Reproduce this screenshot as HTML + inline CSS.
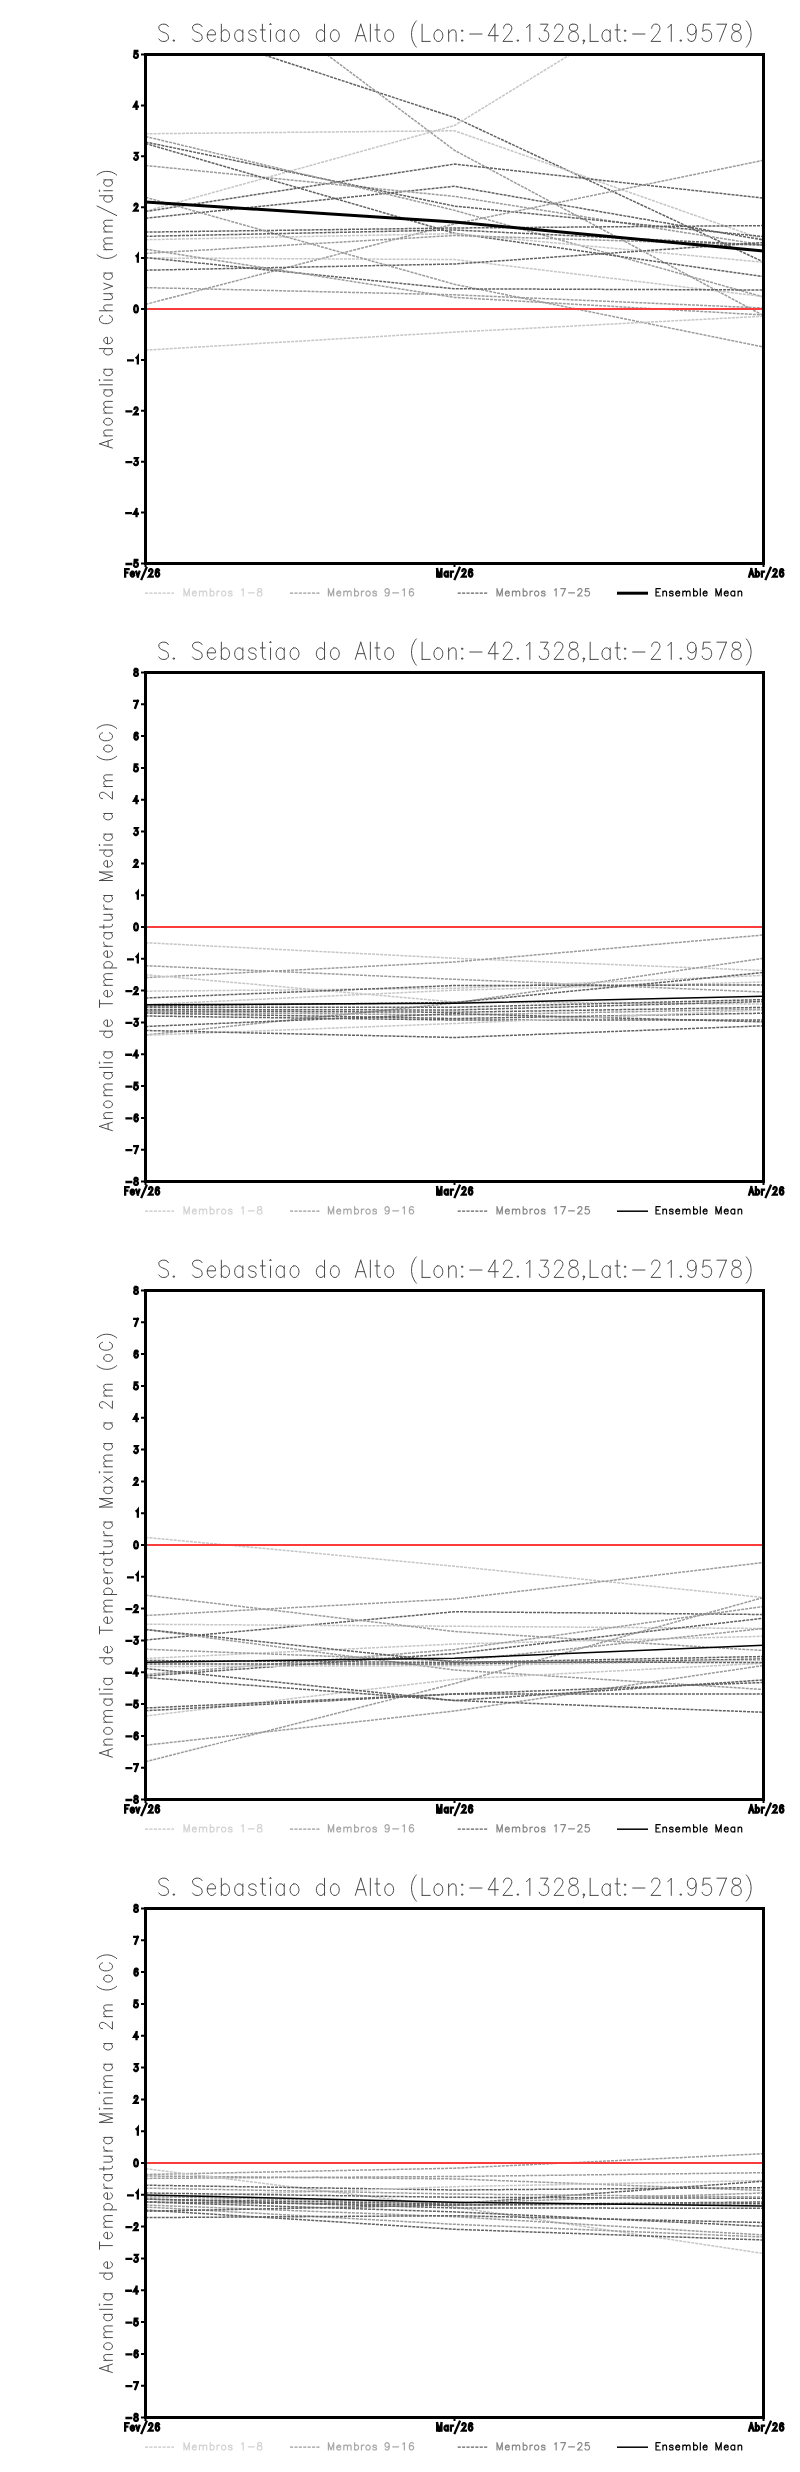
<!DOCTYPE html><html><head><meta charset="utf-8"><style>html,body{margin:0;padding:0;background:#fff}svg{display:block}</style></head><body><svg width="800" height="2472" viewBox="0 0 800 2472">
<rect width="800" height="2472" fill="#fff"/>
<clipPath id="c0"><rect x="145.5" y="54.5" width="618.0" height="509.0"/></clipPath>
<g fill="none" stroke-linecap="butt" clip-path="url(#c0)"><path d="M145.5 16L454.5 117.5L763.5 262" stroke="#626262" stroke-width="1.5" stroke-dasharray="3 1.05"/><path d="M145.5 211.25L454.5 125.5L763.5 -64" stroke="#c6c6c6" stroke-width="1.5" stroke-dasharray="3 1.05"/><path d="M145.5 133.75L454.5 130.75L763.5 239.5" stroke="#c6c6c6" stroke-width="1.5" stroke-dasharray="3 1.05"/><path d="M145.5 -81.5L454.5 150.3L763.5 315.6" stroke="#9c9c9c" stroke-width="1.5" stroke-dasharray="3 1.05"/><path d="M145.5 211.5L454.5 164.1L763.5 198.1" stroke="#626262" stroke-width="1.5" stroke-dasharray="3 1.05"/><path d="M145.5 218.25L454.5 186.3L763.5 240" stroke="#626262" stroke-width="1.5" stroke-dasharray="3 1.05"/><path d="M145.5 165.5L454.5 196.4L763.5 245" stroke="#9c9c9c" stroke-width="1.5" stroke-dasharray="3 1.05"/><path d="M145.5 142L454.5 206.1L763.5 236.6" stroke="#626262" stroke-width="1.5" stroke-dasharray="3 1.05"/><path d="M145.5 136.5L454.5 210.3L763.5 297" stroke="#9c9c9c" stroke-width="1.5" stroke-dasharray="3 1.05"/><path d="M145.5 304.4L454.5 223.9L763.5 160.25" stroke="#9c9c9c" stroke-width="1.5" stroke-dasharray="3 1.05"/><path d="M145.5 232.1L454.5 228L763.5 225.6" stroke="#626262" stroke-width="1.5" stroke-dasharray="3 1.05"/><path d="M145.5 143.5L454.5 233.25L763.5 276.6" stroke="#626262" stroke-width="1.5" stroke-dasharray="3 1.05"/><path d="M145.5 239.7L454.5 233.6L763.5 262.3" stroke="#c6c6c6" stroke-width="1.5" stroke-dasharray="3 1.05"/><path d="M145.5 253.4L454.5 235.5L763.5 245.3" stroke="#9c9c9c" stroke-width="1.5" stroke-dasharray="3 1.05"/><path d="M145.5 258L454.5 259.5L763.5 296.5" stroke="#c6c6c6" stroke-width="1.5" stroke-dasharray="3 1.05"/><path d="M145.5 270.2L454.5 264L763.5 242.5" stroke="#626262" stroke-width="1.5" stroke-dasharray="3 1.05"/><path d="M145.5 197.25L454.5 284.3L763.5 347" stroke="#9c9c9c" stroke-width="1.5" stroke-dasharray="3 1.05"/><path d="M145.5 257.6L454.5 288.8L763.5 290" stroke="#626262" stroke-width="1.5" stroke-dasharray="3 1.05"/><path d="M145.5 287.6L454.5 294.8L763.5 308" stroke="#9c9c9c" stroke-width="1.5" stroke-dasharray="3 1.05"/><path d="M145.5 249.2L454.5 297.4L763.5 315" stroke="#9c9c9c" stroke-width="1.5" stroke-dasharray="3 1.05"/><path d="M145.5 350.1L454.5 332.1L763.5 316.25" stroke="#c6c6c6" stroke-width="1.5" stroke-dasharray="3 1.05"/><path d="M145.5 236.3L454.5 230L763.5 245" stroke="#626262" stroke-width="1.5" stroke-dasharray="3 1.05"/><path d="M145.5 202L454.5 222L763.5 251" stroke="#000" stroke-width="3"/></g>
<path d="M146 309H763" stroke="rgb(250,60,60)" stroke-width="2" fill="none"/>
<rect x="145.5" y="54.5" width="618.0" height="509.0" fill="none" stroke="#000" stroke-width="3"/>
<path d="M141 563.5H145M141 512.6H145M141 461.7H145M141 410.8H145M141 359.9H145M141 309H145M141 258.1H145M141 207.2H145M141 156.3H145M141 105.4H145M141 54.5H145M145.5 563.5V567M454.5 563.5V567M763.5 563.5V567" stroke="#000" stroke-width="2" fill="none"/>
<path d="M126.56 563.98L131.24 563.98M137.33 560.02L134.73 560.02L134.47 562.99L134.73 562.66L135.51 562.33L136.29 562.33L137.07 562.66L137.59 563.32L137.85 564.31L137.85 564.97L137.59 565.96L137.07 566.62L136.29 566.95L135.51 566.95L134.73 566.62L134.47 566.29L134.21 565.63M126.3 513.08L130.98 513.08M136.55 509.12L133.95 513.74L137.85 513.74M136.55 509.12L136.55 516.05M126.56 462.18L131.24 462.18M134.73 458.22L137.59 458.22L136.03 460.86L136.81 460.86L137.33 461.19L137.59 461.52L137.85 462.51L137.85 463.17L137.59 464.16L137.07 464.82L136.29 465.15L135.51 465.15L134.73 464.82L134.47 464.49L134.21 463.83M126.56 411.28L131.24 411.28M134.47 408.97L134.47 408.64L134.73 407.98L134.99 407.65L135.51 407.32L136.55 407.32L137.07 407.65L137.33 407.98L137.59 408.64L137.59 409.3L137.33 409.96L136.81 410.95L134.21 414.25L137.85 414.25M128.12 360.38L132.8 360.38M136.55 357.74L137.07 357.41L137.85 356.42L137.85 363.35M135.77 305.52L134.99 305.85L134.47 306.84L134.21 308.49L134.21 309.48L134.47 311.13L134.99 312.12L135.77 312.45L136.29 312.45L137.07 312.12L137.59 311.13L137.85 309.48L137.85 308.49L137.59 306.84L137.07 305.85L136.29 305.52L135.77 305.52M136.55 255.94L137.07 255.61L137.85 254.62L137.85 261.55M134.47 205.37L134.47 205.04L134.73 204.38L134.99 204.05L135.51 203.72L136.55 203.72L137.07 204.05L137.33 204.38L137.59 205.04L137.59 205.7L137.33 206.36L136.81 207.35L134.21 210.65L137.85 210.65M134.73 152.82L137.59 152.82L136.03 155.46L136.81 155.46L137.33 155.79L137.59 156.12L137.85 157.11L137.85 157.77L137.59 158.76L137.07 159.42L136.29 159.75L135.51 159.75L134.73 159.42L134.47 159.09L134.21 158.43M136.55 101.92L133.95 106.54L137.85 106.54M136.55 101.92L136.55 108.85M137.33 51.02L134.73 51.02L134.47 53.99L134.73 53.66L135.51 53.33L136.29 53.33L137.07 53.66L137.59 54.32L137.85 55.31L137.85 55.97L137.59 56.96L137.07 57.62L136.29 57.95L135.51 57.95L134.73 57.62L134.47 57.29L134.21 56.63M125.15 569.14L125.15 576.6M125.15 569.14L128.66 569.14M125.15 572.7L127.31 572.7M130.68 573.76L133.92 573.76L133.92 573.05L133.65 572.34L133.38 571.99L132.84 571.63L132.03 571.63L131.49 571.99L130.95 572.7L130.68 573.76L130.68 574.47L130.95 575.53L131.49 576.25L132.03 576.6L132.84 576.6L133.38 576.25L133.92 575.53M136.2 571.63L137.82 576.6M139.44 571.63L137.82 576.6M146.43 567.73L141.56 579.09M149.2 570.92L149.2 570.57L149.47 569.86L149.74 569.5L150.28 569.14L151.36 569.14L151.9 569.5L152.17 569.86L152.44 570.57L152.44 571.27L152.17 571.99L151.63 573.05L148.93 576.6L152.71 576.6M158.94 570.21L158.67 569.5L157.86 569.14L157.32 569.14L156.51 569.5L155.97 570.57L155.7 572.34L155.7 574.12L155.97 575.53L156.51 576.25L157.32 576.6L157.59 576.6L158.4 576.25L158.94 575.53L159.21 574.47L159.21 574.12L158.94 573.05L158.4 572.34L157.59 571.99L157.32 571.99L156.51 572.34L155.97 573.05L155.7 574.12M437.15 569.14L437.15 576.6M437.15 569.14L439.31 576.6M441.47 569.14L439.31 576.6M441.47 569.14L441.47 576.6M447.75 571.63L447.75 576.6M447.75 572.7L447.21 571.99L446.67 571.63L445.86 571.63L445.32 571.99L444.78 572.7L444.51 573.76L444.51 574.47L444.78 575.53L445.32 576.25L445.86 576.6L446.67 576.6L447.21 576.25L447.75 575.53M450.85 571.63L450.85 576.6M450.85 573.76L451.12 572.7L451.66 571.99L452.2 571.63L453.01 571.63M459.61 567.73L454.75 579.09M462.39 570.92L462.39 570.57L462.66 569.86L462.93 569.5L463.47 569.14L464.55 569.14L465.09 569.5L465.36 569.86L465.63 570.57L465.63 571.27L465.36 571.99L464.82 573.05L462.12 576.6L465.9 576.6M472.13 570.21L471.86 569.5L471.05 569.14L470.51 569.14L469.7 569.5L469.16 570.57L468.89 572.34L468.89 574.12L469.16 575.53L469.7 576.25L470.51 576.6L470.78 576.6L471.59 576.25L472.13 575.53L472.4 574.47L472.4 574.12L472.13 573.05L471.59 572.34L470.78 571.99L470.51 571.99L469.7 572.34L469.16 573.05L468.89 574.12M751.31 569.14L749.15 576.6M751.31 569.14L753.47 576.6M749.96 574.12L752.66 574.12M755.87 569.14L755.87 576.6M755.87 572.7L756.4 571.99L756.94 571.63L757.75 571.63L758.29 571.99L758.84 572.7L759.11 573.76L759.11 574.47L758.84 575.53L758.29 576.25L757.75 576.6L756.94 576.6L756.4 576.25L755.87 575.53M761.88 571.63L761.88 576.6M761.88 573.76L762.14 572.7L762.68 571.99L763.23 571.63L764.03 571.63M770.64 567.73L765.78 579.09M773.41 570.92L773.41 570.57L773.68 569.86L773.96 569.5L774.5 569.14L775.58 569.14L776.12 569.5L776.38 569.86L776.65 570.57L776.65 571.27L776.38 571.99L775.85 573.05L773.14 576.6L776.92 576.6M783.15 570.21L782.88 569.5L782.08 569.14L781.53 569.14L780.73 569.5L780.18 570.57L779.91 572.34L779.91 574.12L780.18 575.53L780.73 576.25L781.53 576.6L781.8 576.6L782.62 576.25L783.15 575.53L783.42 574.47L783.42 574.12L783.15 573.05L782.62 572.34L781.8 571.99L781.53 571.99L780.73 572.34L780.18 573.05L779.91 574.12" stroke="#000" stroke-width="2.3" fill="none" stroke-linecap="square" stroke-linejoin="miter"/>
<path d="M168.4 26.64L167.04 25L165 24.18L162.28 24.18L160.24 25L158.88 26.64L158.88 28.28L159.56 29.92L160.24 30.74L161.6 31.56L165.68 33.2L167.04 34.02L167.72 34.84L168.4 36.48L168.4 38.94L167.04 40.58L165 41.4L162.28 41.4L160.24 40.58L158.88 38.94M173.5 40.08h1v1h-1zM202.1 26.64L200.74 25L198.7 24.18L195.98 24.18L193.94 25L192.58 26.64L192.58 28.28L193.26 29.92L193.94 30.74L195.3 31.56L199.38 33.2L200.74 34.02L201.42 34.84L202.1 36.48L202.1 38.94L200.74 40.58L198.7 41.4L195.98 41.4L193.94 40.58L192.58 38.94M207.31 34.84L215.47 34.84L215.47 33.2L214.79 31.56L214.11 30.74L212.75 29.92L210.71 29.92L209.35 30.74L207.99 32.38L207.31 34.84L207.31 36.48L207.99 38.94L209.35 40.58L210.71 41.4L212.75 41.4L214.11 40.58L215.47 38.94M221.35 24.18L221.35 41.4M221.35 32.38L222.71 30.74L224.07 29.92L226.11 29.92L227.47 30.74L228.83 32.38L229.51 34.84L229.51 36.48L228.83 38.94L227.47 40.58L226.11 41.4L224.07 41.4L222.71 40.58L221.35 38.94M242.82 29.92L242.82 41.4M242.82 32.38L241.46 30.74L240.1 29.92L238.06 29.92L236.7 30.74L235.34 32.38L234.66 34.84L234.66 36.48L235.34 38.94L236.7 40.58L238.06 41.4L240.1 41.4L241.46 40.58L242.82 38.94M256.13 32.38L255.45 30.74L253.41 29.92L251.37 29.92L249.33 30.74L248.65 32.38L249.33 34.02L250.69 34.84L254.09 35.66L255.45 36.48L256.13 38.12L256.13 38.94L255.45 40.58L253.41 41.4L251.37 41.4L249.33 40.58L248.65 38.94M262.4 24.18L262.4 38.12L263.08 40.58L264.44 41.4L265.8 41.4M260.36 29.92L265.12 29.92M269.86 24.18L270.54 25L271.22 24.18L270.54 23.36L269.86 24.18M270.54 29.92L270.54 41.4M284.23 29.92L284.23 41.4M284.23 32.38L282.87 30.74L281.51 29.92L279.47 29.92L278.11 30.74L276.75 32.38L276.07 34.84L276.07 36.48L276.75 38.94L278.11 40.58L279.47 41.4L281.51 41.4L282.87 40.58L284.23 38.94M293.52 29.92L292.16 30.74L290.8 32.38L290.12 34.84L290.12 36.48L290.8 38.94L292.16 40.58L293.52 41.4L295.56 41.4L296.92 40.58L298.28 38.94L298.96 36.48L298.96 34.84L298.28 32.38L296.92 30.74L295.56 29.92L293.52 29.92M324.53 24.18L324.53 41.4M324.53 32.38L323.17 30.74L321.81 29.92L319.77 29.92L318.41 30.74L317.05 32.38L316.37 34.84L316.37 36.48L317.05 38.94L318.41 40.58L319.77 41.4L321.81 41.4L323.17 40.58L324.53 38.94M333.82 29.92L332.46 30.74L331.1 32.38L330.42 34.84L330.42 36.48L331.1 38.94L332.46 40.58L333.82 41.4L335.86 41.4L337.22 40.58L338.58 38.94L339.26 36.48L339.26 34.84L338.58 32.38L337.22 30.74L335.86 29.92L333.82 29.92M360.75 24.18L355.31 41.4M360.75 24.18L366.19 41.4M357.35 35.66L364.15 35.66M370.36 24.18L370.36 41.4M377.01 24.18L377.01 38.12L377.69 40.58L379.05 41.4L380.41 41.4M374.97 29.92L379.73 29.92M388.16 29.92L386.8 30.74L385.44 32.38L384.76 34.84L384.76 36.48L385.44 38.94L386.8 40.58L388.16 41.4L390.2 41.4L391.56 40.58L392.92 38.94L393.6 36.48L393.6 34.84L392.92 32.38L391.56 30.74L390.2 29.92L388.16 29.92M416.33 20.9L414.97 22.54L413.61 25L412.25 28.28L411.57 32.38L411.57 35.66L412.25 39.76L413.61 43.04L414.97 45.5L416.33 47.14M422.1 24.18L422.1 41.4M422.1 41.4L430.26 41.4M437.33 29.92L435.97 30.74L434.61 32.38L433.93 34.84L433.93 36.48L434.61 38.94L435.97 40.58L437.33 41.4L439.37 41.4L440.73 40.58L442.09 38.94L442.77 36.48L442.77 34.84L442.09 32.38L440.73 30.74L439.37 29.92L437.33 29.92M448.66 29.92L448.66 41.4M448.66 33.2L450.7 30.74L452.06 29.92L454.1 29.92L455.46 30.74L456.14 33.2L456.14 41.4M461.91 30.24h1v1h-1zM461.91 40.08h1v1h-1zM469.78 34.02L482.02 34.02M494.95 24.18L488.15 35.66L498.35 35.66M494.95 24.18L494.95 41.4M503.62 28.28L503.62 27.46L504.3 25.82L504.98 25L506.34 24.18L509.06 24.18L510.42 25L511.1 25.82L511.78 27.46L511.78 29.1L511.1 30.74L509.74 33.2L502.94 41.4L512.46 41.4M517.55 40.08h1v1h-1zM526.47 27.46L527.83 26.64L529.87 24.18L529.87 41.4M540.58 24.18L548.06 24.18L543.98 30.74L546.02 30.74L547.38 31.56L548.06 32.38L548.74 34.84L548.74 36.48L548.06 38.94L546.7 40.58L544.66 41.4L542.62 41.4L540.58 40.58L539.9 39.76L539.22 38.12M554.69 28.28L554.69 27.46L555.37 25.82L556.05 25L557.41 24.18L560.13 24.18L561.49 25L562.17 25.82L562.85 27.46L562.85 29.1L562.17 30.74L560.81 33.2L554.01 41.4L563.53 41.4M572.19 24.18L570.15 25L569.47 26.64L569.47 28.28L570.15 29.92L571.51 30.74L574.23 31.56L576.27 32.38L577.63 34.02L578.31 35.66L578.31 38.12L577.63 39.76L576.95 40.58L574.91 41.4L572.19 41.4L570.15 40.58L569.47 39.76L568.79 38.12L568.79 35.66L569.47 34.02L570.83 32.38L572.87 31.56L575.59 30.74L576.95 29.92L577.63 28.28L577.63 26.64L576.95 25L574.91 24.18L572.19 24.18M583.41 40.08h1v1h-1zM584.59 40.58L583.23 43.86M590.18 24.18L590.18 41.4M590.18 41.4L598.34 41.4M610.17 29.92L610.17 41.4M610.17 32.38L608.81 30.74L607.45 29.92L605.41 29.92L604.05 30.74L602.69 32.38L602.01 34.84L602.01 36.48L602.69 38.94L604.05 40.58L605.41 41.4L607.45 41.4L608.81 40.58L610.17 38.94M617.18 24.18L617.18 38.12L617.86 40.58L619.22 41.4L620.58 41.4M615.14 29.92L619.9 29.92M624.81 30.24h1v1h-1zM624.81 40.08h1v1h-1zM632.68 34.02L644.92 34.02M651.73 28.28L651.73 27.46L652.41 25.82L653.09 25L654.45 24.18L657.17 24.18L658.53 25L659.21 25.82L659.89 27.46L659.89 29.1L659.21 30.74L657.85 33.2L651.05 41.4L660.57 41.4M667.88 27.46L669.24 26.64L671.28 24.18L671.28 41.4M680.45 40.08h1v1h-1zM696.17 29.92L695.49 32.38L694.13 34.02L692.09 34.84L691.41 34.84L689.37 34.02L688.01 32.38L687.33 29.92L687.33 29.1L688.01 26.64L689.37 25L691.41 24.18L692.09 24.18L694.13 25L695.49 26.64L696.17 29.92L696.17 34.02L695.49 38.12L694.13 40.58L692.09 41.4L690.73 41.4L688.69 40.58L688.01 38.94M710.28 24.18L703.48 24.18L702.8 31.56L703.48 30.74L705.52 29.92L707.56 29.92L709.6 30.74L710.96 32.38L711.64 34.84L711.64 36.48L710.96 38.94L709.6 40.58L707.56 41.4L705.52 41.4L703.48 40.58L702.8 39.76L702.12 38.12M726.43 24.18L719.63 41.4M716.91 24.18L726.43 24.18M735.09 24.18L733.05 25L732.37 26.64L732.37 28.28L733.05 29.92L734.41 30.74L737.13 31.56L739.17 32.38L740.53 34.02L741.21 35.66L741.21 38.12L740.53 39.76L739.85 40.58L737.81 41.4L735.09 41.4L733.05 40.58L732.37 39.76L731.69 38.12L731.69 35.66L732.37 34.02L733.73 32.38L735.77 31.56L738.49 30.74L739.85 29.92L740.53 28.28L740.53 26.64L739.85 25L737.81 24.18L735.09 24.18M746.3 20.9L747.66 22.54L749.02 25L750.38 28.28L751.06 32.38L751.06 35.66L750.38 39.76L749.02 43.04L747.66 45.5L746.3 47.14" stroke="#404040" stroke-width="0.95" fill="none" stroke-linecap="round" stroke-linejoin="round"/>
<path d="M99.49 443.81L112.4 448.06M99.49 443.81L112.4 439.57M108.09 446.46L108.09 441.17M103.79 435.85L112.4 435.85M106.25 435.85L104.41 434.25L103.79 433.19L103.79 431.61L104.41 430.55L106.25 430.01L112.4 430.01M103.79 422.51L104.41 423.57L105.64 424.63L107.48 425.17L108.71 425.17L110.56 424.63L111.79 423.57L112.4 422.51L112.4 420.93L111.79 419.87L110.56 418.81L108.71 418.27L107.48 418.27L105.64 418.81L104.41 419.87L103.79 420.93L103.79 422.51M103.79 413.06L112.4 413.06M106.25 413.06L104.41 411.48L103.79 410.42L103.79 408.82L104.41 407.76L106.25 407.24L112.4 407.24M106.25 407.24L104.41 405.64L103.79 404.58L103.79 403L104.41 401.94L106.25 401.4L112.4 401.4M103.79 389.89L112.4 389.89M105.64 389.89L104.41 390.95L103.79 392.01L103.79 393.61L104.41 394.67L105.64 395.73L107.48 396.25L108.71 396.25L110.56 395.73L111.79 394.67L112.4 393.61L112.4 392.01L111.79 390.95L110.56 389.89M99.49 384.81L112.4 384.81M99.49 380.62L100.1 380.1L99.49 379.56L98.87 380.1L99.49 380.62M103.79 380.1L112.4 380.1M103.79 369.25L112.4 369.25M105.64 369.25L104.41 370.31L103.79 371.37L103.79 372.95L104.41 374.01L105.64 375.07L107.48 375.61L108.71 375.61L110.56 375.07L111.79 374.01L112.4 372.95L112.4 371.37L111.79 370.31L110.56 369.25M99.49 348.6L112.4 348.6M105.64 348.6L104.41 349.65L103.79 350.72L103.79 352.31L104.41 353.37L105.64 354.43L107.48 354.96L108.71 354.96L110.56 354.43L111.79 353.37L112.4 352.31L112.4 350.72L111.79 349.65L110.56 348.6M107.48 343.75L107.48 337.38L106.25 337.38L105.02 337.92L104.41 338.44L103.79 339.5L103.79 341.1L104.41 342.16L105.64 343.22L107.48 343.75L108.71 343.75L110.56 343.22L111.79 342.16L112.4 341.1L112.4 339.5L111.79 338.44L110.56 337.38M102.56 315.68L101.33 316.21L100.1 317.26L99.49 318.33L99.49 320.45L100.1 321.5L101.33 322.57L102.56 323.1L104.41 323.62L107.48 323.62L109.33 323.1L110.56 322.57L111.79 321.5L112.4 320.45L112.4 318.33L111.79 317.26L110.56 316.21L109.33 315.68M99.49 310.76L112.4 310.76M106.25 310.76L104.41 309.18L103.79 308.12L103.79 306.52L104.41 305.47L106.25 304.94L112.4 304.94M103.79 299.56L109.94 299.56L111.79 299.02L112.4 297.97L112.4 296.38L111.79 295.31L109.94 293.73M103.79 293.73L112.4 293.73M103.79 289.47L112.4 286.28M103.79 283.11L112.4 286.28M103.79 273.07L112.4 273.07M105.64 273.07L104.41 274.13L103.79 275.19L103.79 276.78L104.41 277.85L105.64 278.9L107.48 279.44L108.71 279.44L110.56 278.9L111.79 277.85L112.4 276.78L112.4 275.19L111.79 274.13L110.56 273.07M97.03 254.66L98.26 255.72L100.1 256.78L102.56 257.85L105.64 258.38L108.09 258.38L111.17 257.85L113.63 256.78L115.48 255.72L116.71 254.66M103.79 249.64L112.4 249.64M106.25 249.64L104.41 248.05L103.79 246.99L103.79 245.4L104.41 244.34L106.25 243.81L112.4 243.81M106.25 243.81L104.41 242.22L103.79 241.16L103.79 239.56L104.41 238.5L106.25 237.97L112.4 237.97M103.79 231.94L112.4 231.94M106.25 231.94L104.41 230.35L103.79 229.29L103.79 227.7L104.41 226.64L106.25 226.11L112.4 226.11M106.25 226.11L104.41 224.52L103.79 223.46L103.79 221.87L104.41 220.81L106.25 220.28L112.4 220.28M97.03 206L116.71 215.54M99.49 195.79L112.4 195.79M105.64 195.79L104.41 196.85L103.79 197.91L103.79 199.5L104.41 200.56L105.64 201.62L107.48 202.15L108.71 202.15L110.56 201.62L111.79 200.56L112.4 199.5L112.4 197.91L111.79 196.85L110.56 195.79M99.49 191.24L100.1 190.71L99.49 190.18L98.87 190.71L99.49 191.24M103.79 190.71L112.4 190.71M103.79 179.86L112.4 179.86M105.64 179.86L104.41 180.92L103.79 181.98L103.79 183.56L104.41 184.62L105.64 185.69L107.48 186.22L108.71 186.22L110.56 185.69L111.79 184.62L112.4 183.56L112.4 181.98L111.79 180.92L110.56 179.86M97.03 175.13L98.26 174.07L100.1 173.01L102.56 171.95L105.64 171.42L108.09 171.42L111.17 171.95L113.63 173.01L115.48 174.07L116.71 175.13" stroke="#404040" stroke-width="0.95" fill="none" stroke-linecap="round" stroke-linejoin="round"/>
<path d="M145 593.2H174" stroke="#c6c6c6" stroke-width="1.2" stroke-dasharray="3.1 1.3" fill="none"/>
<path d="M184 588.65L184 596M184 588.65L186.64 596M189.28 588.65L186.64 596M189.28 588.65L189.28 596M192.32 593.2L196.28 593.2L196.28 592.5L195.95 591.8L195.62 591.45L194.97 591.1L193.97 591.1L193.31 591.45L192.66 592.15L192.32 593.2L192.32 593.9L192.66 594.95L193.31 595.65L193.97 596L194.97 596L195.62 595.65L196.28 594.95M199.44 591.1L199.44 596M199.44 592.5L200.42 591.45L201.08 591.1L202.07 591.1L202.73 591.45L203.06 592.5L203.06 596M203.06 592.5L204.05 591.45L204.71 591.1L205.7 591.1L206.36 591.45L206.69 592.5L206.69 596M210.21 588.65L210.21 596M210.21 592.15L210.87 591.45L211.53 591.1L212.52 591.1L213.18 591.45L213.84 592.15L214.17 593.2L214.17 593.9L213.84 594.95L213.18 595.65L212.52 596L211.53 596L210.87 595.65L210.21 594.95M217.04 591.1L217.04 596M217.04 593.2L217.37 592.15L218.03 591.45L218.69 591.1L219.68 591.1M223.18 591.1L222.51 591.45L221.85 592.15L221.53 593.2L221.53 593.9L221.85 594.95L222.51 595.65L223.18 596L224.16 596L224.82 595.65L225.48 594.95L225.81 593.9L225.81 593.2L225.48 592.15L224.82 591.45L224.16 591.1L223.18 591.1M232.06 592.15L231.72 591.45L230.73 591.1L229.75 591.1L228.75 591.45L228.43 592.15L228.75 592.85L229.41 593.2L231.06 593.55L231.72 593.9L232.06 594.6L232.06 594.95L231.72 595.65L230.73 596L229.75 596L228.75 595.65L228.43 594.95M241.53 590.05L242.19 589.7L243.18 588.65L243.18 596M248.27 592.85L254.21 592.85M258.98 588.65L257.99 589L257.66 589.7L257.66 590.4L257.99 591.1L258.65 591.45L259.97 591.8L260.96 592.15L261.62 592.85L261.95 593.55L261.95 594.6L261.62 595.3L261.29 595.65L260.3 596L258.98 596L257.99 595.65L257.66 595.3L257.33 594.6L257.33 593.55L257.66 592.85L258.32 592.15L259.31 591.8L260.63 591.45L261.29 591.1L261.62 590.4L261.62 589.7L261.29 589L260.3 588.65L258.98 588.65" stroke="#d2d2d2" stroke-width="1.2" fill="none" stroke-linecap="round" stroke-linejoin="round"/>
<path d="M290 593.2H320" stroke="#9c9c9c" stroke-width="1.2" stroke-dasharray="3.1 1.3" fill="none"/>
<path d="M328.4 588.65L328.4 596M328.4 588.65L331.04 596M333.68 588.65L331.04 596M333.68 588.65L333.68 596M336.72 593.2L340.68 593.2L340.68 592.5L340.35 591.8L340.02 591.45L339.36 591.1L338.37 591.1L337.71 591.45L337.05 592.15L336.72 593.2L336.72 593.9L337.05 594.95L337.71 595.65L338.37 596L339.36 596L340.02 595.65L340.68 594.95M343.83 591.1L343.83 596M343.83 592.5L344.82 591.45L345.48 591.1L346.47 591.1L347.13 591.45L347.46 592.5L347.46 596M347.46 592.5L348.45 591.45L349.11 591.1L350.1 591.1L350.76 591.45L351.09 592.5L351.09 596M354.61 588.65L354.61 596M354.61 592.15L355.27 591.45L355.93 591.1L356.92 591.1L357.58 591.45L358.24 592.15L358.57 593.2L358.57 593.9L358.24 594.95L357.58 595.65L356.92 596L355.93 596L355.27 595.65L354.61 594.95M361.44 591.1L361.44 596M361.44 593.2L361.77 592.15L362.43 591.45L363.09 591.1L364.08 591.1M367.57 591.1L366.91 591.45L366.25 592.15L365.92 593.2L365.92 593.9L366.25 594.95L366.91 595.65L367.57 596L368.56 596L369.22 595.65L369.88 594.95L370.21 593.9L370.21 593.2L369.88 592.15L369.22 591.45L368.56 591.1L367.57 591.1M376.45 592.15L376.12 591.45L375.13 591.1L374.14 591.1L373.15 591.45L372.82 592.15L373.15 592.85L373.81 593.2L375.46 593.55L376.12 593.9L376.45 594.6L376.45 594.95L376.12 595.65L375.13 596L374.14 596L373.15 595.65L372.82 594.95M389.23 591.1L388.9 592.15L388.24 592.85L387.25 593.2L386.92 593.2L385.93 592.85L385.27 592.15L384.94 591.1L384.94 590.75L385.27 589.7L385.93 589L386.92 588.65L387.25 588.65L388.24 589L388.9 589.7L389.23 591.1L389.23 592.85L388.9 594.6L388.24 595.65L387.25 596L386.59 596L385.6 595.65L385.27 594.95M392.67 592.85L398.61 592.85M402.72 590.05L403.38 589.7L404.37 588.65L404.37 596M413.32 589.7L412.99 589L412 588.65L411.34 588.65L410.35 589L409.69 590.05L409.36 591.8L409.36 593.55L409.69 594.95L410.35 595.65L411.34 596L411.67 596L412.66 595.65L413.32 594.95L413.65 593.9L413.65 593.55L413.32 592.5L412.66 591.8L411.67 591.45L411.34 591.45L410.35 591.8L409.69 592.5L409.36 593.55" stroke="#a8a8a8" stroke-width="1.2" fill="none" stroke-linecap="round" stroke-linejoin="round"/>
<path d="M457.7 593.2H487.4" stroke="#626262" stroke-width="1.2" stroke-dasharray="3.1 1.3" fill="none"/>
<path d="M497 588.65L497 596M497 588.65L499.64 596M502.28 588.65L499.64 596M502.28 588.65L502.28 596M505.32 593.2L509.28 593.2L509.28 592.5L508.95 591.8L508.62 591.45L507.96 591.1L506.97 591.1L506.31 591.45L505.65 592.15L505.32 593.2L505.32 593.9L505.65 594.95L506.31 595.65L506.97 596L507.96 596L508.62 595.65L509.28 594.95M512.43 591.1L512.43 596M512.43 592.5L513.42 591.45L514.09 591.1L515.08 591.1L515.74 591.45L516.06 592.5L516.06 596M516.06 592.5L517.05 591.45L517.72 591.1L518.71 591.1L519.37 591.45L519.69 592.5L519.69 596M523.21 588.65L523.21 596M523.21 592.15L523.87 591.45L524.53 591.1L525.52 591.1L526.18 591.45L526.84 592.15L527.17 593.2L527.17 593.9L526.84 594.95L526.18 595.65L525.52 596L524.53 596L523.87 595.65L523.21 594.95M530.04 591.1L530.04 596M530.04 593.2L530.37 592.15L531.03 591.45L531.69 591.1L532.68 591.1M536.17 591.1L535.51 591.45L534.86 592.15L534.52 593.2L534.52 593.9L534.86 594.95L535.51 595.65L536.17 596L537.16 596L537.83 595.65L538.49 594.95L538.82 593.9L538.82 593.2L538.49 592.15L537.83 591.45L537.16 591.1L536.17 591.1M545.05 592.15L544.73 591.45L543.74 591.1L542.75 591.1L541.75 591.45L541.42 592.15L541.75 592.85L542.41 593.2L544.07 593.55L544.73 593.9L545.05 594.6L545.05 594.95L544.73 595.65L543.74 596L542.75 596L541.75 595.65L541.42 594.95M554.53 590.05L555.19 589.7L556.18 588.65L556.18 596M565.46 588.65L562.16 596M560.84 588.65L565.46 588.65M568.58 592.85L574.51 592.85M577.96 590.4L577.96 590.05L578.29 589.35L578.62 589L579.28 588.65L580.6 588.65L581.26 589L581.59 589.35L581.92 590.05L581.92 590.75L581.59 591.45L580.93 592.5L577.63 596L582.25 596M588.89 588.65L585.59 588.65L585.26 591.8L585.59 591.45L586.58 591.1L587.57 591.1L588.56 591.45L589.22 592.15L589.55 593.2L589.55 593.9L589.22 594.95L588.56 595.65L587.57 596L586.58 596L585.59 595.65L585.26 595.3L584.93 594.6" stroke="#888888" stroke-width="1.2" fill="none" stroke-linecap="round" stroke-linejoin="round"/>
<path d="M617 593.2H648" stroke="#000" stroke-width="3" fill="none"/>
<path d="M656 588.65L656 596M656 588.65L660.29 588.65M656 592.15L658.64 592.15M656 596L660.29 596M662.9 591.1L662.9 596M662.9 592.5L663.89 591.45L664.55 591.1L665.54 591.1L666.2 591.45L666.53 592.5L666.53 596M673.1 592.15L672.77 591.45L671.78 591.1L670.79 591.1L669.8 591.45L669.47 592.15L669.8 592.85L670.46 593.2L672.11 593.55L672.77 593.9L673.1 594.6L673.1 594.95L672.77 595.65L671.78 596L670.79 596L669.8 595.65L669.47 594.95M675.71 593.2L679.67 593.2L679.67 592.5L679.34 591.8L679.01 591.45L678.35 591.1L677.36 591.1L676.7 591.45L676.04 592.15L675.71 593.2L675.71 593.9L676.04 594.95L676.7 595.65L677.36 596L678.35 596L679.01 595.65L679.67 594.95M682.82 591.1L682.82 596M682.82 592.5L683.81 591.45L684.47 591.1L685.46 591.1L686.12 591.45L686.45 592.5L686.45 596M686.45 592.5L687.44 591.45L688.1 591.1L689.09 591.1L689.75 591.45L690.08 592.5L690.08 596M693.6 588.65L693.6 596M693.6 592.15L694.25 591.45L694.92 591.1L695.91 591.1L696.57 591.45L697.23 592.15L697.56 593.2L697.56 593.9L697.23 594.95L696.57 595.65L695.91 596L694.92 596L694.25 595.65L693.6 594.95M700.32 588.65L700.32 596M703.09 593.2L707.05 593.2L707.05 592.5L706.72 591.8L706.38 591.45L705.73 591.1L704.74 591.1L704.08 591.45L703.42 592.15L703.09 593.2L703.09 593.9L703.42 594.95L704.08 595.65L704.74 596L705.73 596L706.38 595.65L707.05 594.95M715.93 588.65L715.93 596M715.93 588.65L718.57 596M721.21 588.65L718.57 596M721.21 588.65L721.21 596M724.25 593.2L728.22 593.2L728.22 592.5L727.88 591.8L727.56 591.45L726.89 591.1L725.91 591.1L725.25 591.45L724.59 592.15L724.25 593.2L724.25 593.9L724.59 594.95L725.25 595.65L725.91 596L726.89 596L727.56 595.65L728.22 594.95M734.79 591.1L734.79 596M734.79 592.15L734.12 591.45L733.47 591.1L732.48 591.1L731.82 591.45L731.15 592.15L730.83 593.2L730.83 593.9L731.15 594.95L731.82 595.65L732.48 596L733.47 596L734.12 595.65L734.79 594.95M738.09 591.1L738.09 596M738.09 592.5L739.08 591.45L739.74 591.1L740.73 591.1L741.39 591.45L741.72 592.5L741.72 596" stroke="#000" stroke-width="1.2" fill="none" stroke-linecap="round" stroke-linejoin="round"/>
<clipPath id="c1"><rect x="145.5" y="672.5" width="618.0" height="509.0"/></clipPath>
<g fill="none" stroke-linecap="butt" clip-path="url(#c1)"><path d="M145.5 942.75L454.5 958.25L763.5 970.5" stroke="#c6c6c6" stroke-width="1.5" stroke-dasharray="3 1.05"/><path d="M145.5 965.7L454.5 979.3L763.5 992" stroke="#9c9c9c" stroke-width="1.5" stroke-dasharray="3 1.05"/><path d="M145.5 977.6L454.5 962L763.5 935" stroke="#9c9c9c" stroke-width="1.5" stroke-dasharray="3 1.05"/><path d="M145.5 1035L454.5 1003L763.5 958.3" stroke="#9c9c9c" stroke-width="1.5" stroke-dasharray="3 1.05"/><path d="M145.5 974.7L454.5 1002L763.5 1004" stroke="#c6c6c6" stroke-width="1.5" stroke-dasharray="3 1.05"/><path d="M145.5 991.2L454.5 988.3L763.5 975.4" stroke="#c6c6c6" stroke-width="1.5" stroke-dasharray="3 1.05"/><path d="M145.5 1004.6L454.5 990.2L763.5 982" stroke="#c6c6c6" stroke-width="1.5" stroke-dasharray="3 1.05"/><path d="M145.5 998L454.5 985.5L763.5 985" stroke="#626262" stroke-width="1.5" stroke-dasharray="3 1.05"/><path d="M145.5 1006L454.5 1002.5L763.5 972.5" stroke="#626262" stroke-width="1.5" stroke-dasharray="3 1.05"/><path d="M145.5 1007.25L454.5 1007.25L763.5 999.6" stroke="#626262" stroke-width="1.5" stroke-dasharray="3 1.05"/><path d="M145.5 1009.5L454.5 1010L763.5 1001.5" stroke="#626262" stroke-width="1.5" stroke-dasharray="3 1.05"/><path d="M145.5 1011L454.5 1012.25L763.5 1007.4" stroke="#626262" stroke-width="1.5" stroke-dasharray="3 1.05"/><path d="M145.5 1012L454.5 1015L763.5 1009.3" stroke="#9c9c9c" stroke-width="1.5" stroke-dasharray="3 1.05"/><path d="M145.5 1013.1L454.5 1018.5L763.5 1013.2" stroke="#626262" stroke-width="1.5" stroke-dasharray="3 1.05"/><path d="M145.5 1016L454.5 1020L763.5 1020" stroke="#626262" stroke-width="1.5" stroke-dasharray="3 1.05"/><path d="M145.5 1026.5L454.5 1013.7L763.5 1021.9" stroke="#626262" stroke-width="1.5" stroke-dasharray="3 1.05"/><path d="M145.5 1035.25L454.5 1023.5L763.5 1010" stroke="#c6c6c6" stroke-width="1.5" stroke-dasharray="3 1.05"/><path d="M145.5 1030.5L454.5 1037.5L763.5 1025.8" stroke="#626262" stroke-width="1.5" stroke-dasharray="3 1.05"/><path d="M145.5 1004.75L454.5 1003.3L763.5 996.3" stroke="#000" stroke-width="1.5"/></g>
<path d="M146 927H763" stroke="rgb(250,60,60)" stroke-width="2" fill="none"/>
<rect x="145.5" y="672.5" width="618.0" height="509.0" fill="none" stroke="#000" stroke-width="3"/>
<path d="M141 1181.5H145M141 1149.69H145M141 1117.88H145M141 1086.06H145M141 1054.25H145M141 1022.44H145M141 990.62H145M141 958.81H145M141 927H145M141 895.19H145M141 863.38H145M141 831.56H145M141 799.75H145M141 767.94H145M141 736.12H145M141 704.31H145M141 672.5H145M145.5 1181.5V1185M454.5 1181.5V1185M763.5 1181.5V1185" stroke="#000" stroke-width="2" fill="none"/>
<path d="M126.56 1181.98L131.24 1181.98M135.51 1178.02L134.73 1178.35L134.47 1179.01L134.47 1179.67L134.73 1180.33L135.25 1180.66L136.29 1180.99L137.07 1181.32L137.59 1181.98L137.85 1182.64L137.85 1183.63L137.59 1184.29L137.33 1184.62L136.55 1184.95L135.51 1184.95L134.73 1184.62L134.47 1184.29L134.21 1183.63L134.21 1182.64L134.47 1181.98L134.99 1181.32L135.77 1180.99L136.81 1180.66L137.33 1180.33L137.59 1179.67L137.59 1179.01L137.33 1178.35L136.55 1178.02L135.51 1178.02M126.56 1150.17L131.24 1150.17M137.85 1146.21L135.25 1153.14M134.21 1146.21L137.85 1146.21M126.56 1118.36L131.24 1118.36M137.59 1115.38L137.33 1114.73L136.55 1114.39L136.03 1114.39L135.25 1114.73L134.73 1115.72L134.47 1117.37L134.47 1119.02L134.73 1120.34L135.25 1121L136.03 1121.33L136.29 1121.33L137.07 1121L137.59 1120.34L137.85 1119.35L137.85 1119.02L137.59 1118.03L137.07 1117.37L136.29 1117.04L136.03 1117.04L135.25 1117.37L134.73 1118.03L134.47 1119.02M126.56 1086.54L131.24 1086.54M137.33 1082.58L134.73 1082.58L134.47 1085.55L134.73 1085.22L135.51 1084.89L136.29 1084.89L137.07 1085.22L137.59 1085.88L137.85 1086.87L137.85 1087.53L137.59 1088.52L137.07 1089.18L136.29 1089.51L135.51 1089.51L134.73 1089.18L134.47 1088.85L134.21 1088.19M126.3 1054.73L130.98 1054.73M136.55 1050.77L133.95 1055.39L137.85 1055.39M136.55 1050.77L136.55 1057.7M126.56 1022.92L131.24 1022.92M134.73 1018.96L137.59 1018.96L136.03 1021.6L136.81 1021.6L137.33 1021.93L137.59 1022.26L137.85 1023.25L137.85 1023.91L137.59 1024.9L137.07 1025.56L136.29 1025.89L135.51 1025.89L134.73 1025.56L134.47 1025.23L134.21 1024.57M126.56 991.11L131.24 991.11M134.47 988.8L134.47 988.47L134.73 987.81L134.99 987.48L135.51 987.15L136.55 987.15L137.07 987.48L137.33 987.81L137.59 988.47L137.59 989.12L137.33 989.79L136.81 990.78L134.21 994.08L137.85 994.08M128.12 959.29L132.8 959.29M136.55 956.65L137.07 956.32L137.85 955.33L137.85 962.26M135.77 923.52L134.99 923.85L134.47 924.84L134.21 926.49L134.21 927.48L134.47 929.13L134.99 930.12L135.77 930.45L136.29 930.45L137.07 930.12L137.59 929.13L137.85 927.48L137.85 926.49L137.59 924.84L137.07 923.85L136.29 923.52L135.77 923.52M136.55 893.03L137.07 892.7L137.85 891.71L137.85 898.64M134.47 861.55L134.47 861.22L134.73 860.56L134.99 860.23L135.51 859.9L136.55 859.9L137.07 860.23L137.33 860.56L137.59 861.22L137.59 861.88L137.33 862.54L136.81 863.53L134.21 866.83L137.85 866.83M134.73 828.08L137.59 828.08L136.03 830.72L136.81 830.72L137.33 831.05L137.59 831.38L137.85 832.37L137.85 833.03L137.59 834.02L137.07 834.68L136.29 835.01L135.51 835.01L134.73 834.68L134.47 834.35L134.21 833.69M136.55 796.27L133.95 800.89L137.85 800.89M136.55 796.27L136.55 803.2M137.33 764.46L134.73 764.46L134.47 767.43L134.73 767.1L135.51 766.77L136.29 766.77L137.07 767.1L137.59 767.76L137.85 768.75L137.85 769.41L137.59 770.4L137.07 771.06L136.29 771.39L135.51 771.39L134.73 771.06L134.47 770.73L134.21 770.07M137.59 733.63L137.33 732.98L136.55 732.65L136.03 732.65L135.25 732.98L134.73 733.97L134.47 735.62L134.47 737.27L134.73 738.59L135.25 739.25L136.03 739.58L136.29 739.58L137.07 739.25L137.59 738.59L137.85 737.6L137.85 737.27L137.59 736.28L137.07 735.62L136.29 735.29L136.03 735.29L135.25 735.62L134.73 736.28L134.47 737.27M137.85 700.83L135.25 707.76M134.21 700.83L137.85 700.83M135.51 669.02L134.73 669.35L134.47 670.01L134.47 670.67L134.73 671.33L135.25 671.66L136.29 671.99L137.07 672.32L137.59 672.98L137.85 673.64L137.85 674.63L137.59 675.29L137.33 675.62L136.55 675.95L135.51 675.95L134.73 675.62L134.47 675.29L134.21 674.63L134.21 673.64L134.47 672.98L134.99 672.32L135.77 671.99L136.81 671.66L137.33 671.33L137.59 670.67L137.59 670.01L137.33 669.35L136.55 669.02L135.51 669.02M125.15 1187.14L125.15 1194.6M125.15 1187.14L128.66 1187.14M125.15 1190.69L127.31 1190.69M130.68 1191.76L133.92 1191.76L133.92 1191.05L133.65 1190.34L133.38 1189.98L132.84 1189.63L132.03 1189.63L131.49 1189.98L130.95 1190.69L130.68 1191.76L130.68 1192.47L130.95 1193.53L131.49 1194.24L132.03 1194.6L132.84 1194.6L133.38 1194.24L133.92 1193.53M136.2 1189.63L137.82 1194.6M139.44 1189.63L137.82 1194.6M146.43 1185.72L141.56 1197.08M149.2 1188.92L149.2 1188.56L149.47 1187.86L149.74 1187.5L150.28 1187.14L151.36 1187.14L151.9 1187.5L152.17 1187.86L152.44 1188.56L152.44 1189.27L152.17 1189.98L151.63 1191.05L148.93 1194.6L152.71 1194.6M158.94 1188.21L158.67 1187.5L157.86 1187.14L157.32 1187.14L156.51 1187.5L155.97 1188.56L155.7 1190.34L155.7 1192.12L155.97 1193.53L156.51 1194.24L157.32 1194.6L157.59 1194.6L158.4 1194.24L158.94 1193.53L159.21 1192.47L159.21 1192.12L158.94 1191.05L158.4 1190.34L157.59 1189.98L157.32 1189.98L156.51 1190.34L155.97 1191.05L155.7 1192.12M437.15 1187.14L437.15 1194.6M437.15 1187.14L439.31 1194.6M441.47 1187.14L439.31 1194.6M441.47 1187.14L441.47 1194.6M447.75 1189.63L447.75 1194.6M447.75 1190.69L447.21 1189.98L446.67 1189.63L445.86 1189.63L445.32 1189.98L444.78 1190.69L444.51 1191.76L444.51 1192.47L444.78 1193.53L445.32 1194.24L445.86 1194.6L446.67 1194.6L447.21 1194.24L447.75 1193.53M450.85 1189.63L450.85 1194.6M450.85 1191.76L451.12 1190.69L451.66 1189.98L452.2 1189.63L453.01 1189.63M459.61 1185.72L454.75 1197.08M462.39 1188.92L462.39 1188.56L462.66 1187.86L462.93 1187.5L463.47 1187.14L464.55 1187.14L465.09 1187.5L465.36 1187.86L465.63 1188.56L465.63 1189.27L465.36 1189.98L464.82 1191.05L462.12 1194.6L465.9 1194.6M472.13 1188.21L471.86 1187.5L471.05 1187.14L470.51 1187.14L469.7 1187.5L469.16 1188.56L468.89 1190.34L468.89 1192.12L469.16 1193.53L469.7 1194.24L470.51 1194.6L470.78 1194.6L471.59 1194.24L472.13 1193.53L472.4 1192.47L472.4 1192.12L472.13 1191.05L471.59 1190.34L470.78 1189.98L470.51 1189.98L469.7 1190.34L469.16 1191.05L468.89 1192.12M751.31 1187.14L749.15 1194.6M751.31 1187.14L753.47 1194.6M749.96 1192.12L752.66 1192.12M755.87 1187.14L755.87 1194.6M755.87 1190.69L756.4 1189.98L756.94 1189.63L757.75 1189.63L758.29 1189.98L758.84 1190.69L759.11 1191.76L759.11 1192.47L758.84 1193.53L758.29 1194.24L757.75 1194.6L756.94 1194.6L756.4 1194.24L755.87 1193.53M761.88 1189.63L761.88 1194.6M761.88 1191.76L762.14 1190.69L762.68 1189.98L763.23 1189.63L764.03 1189.63M770.64 1185.72L765.78 1197.08M773.41 1188.92L773.41 1188.56L773.68 1187.86L773.96 1187.5L774.5 1187.14L775.58 1187.14L776.12 1187.5L776.38 1187.86L776.65 1188.56L776.65 1189.27L776.38 1189.98L775.85 1191.05L773.14 1194.6L776.92 1194.6M783.15 1188.21L782.88 1187.5L782.08 1187.14L781.53 1187.14L780.73 1187.5L780.18 1188.56L779.91 1190.34L779.91 1192.12L780.18 1193.53L780.73 1194.24L781.53 1194.6L781.8 1194.6L782.62 1194.24L783.15 1193.53L783.42 1192.47L783.42 1192.12L783.15 1191.05L782.62 1190.34L781.8 1189.98L781.53 1189.98L780.73 1190.34L780.18 1191.05L779.91 1192.12" stroke="#000" stroke-width="2.3" fill="none" stroke-linecap="square" stroke-linejoin="miter"/>
<path d="M168.4 644.64L167.04 643L165 642.18L162.28 642.18L160.24 643L158.88 644.64L158.88 646.28L159.56 647.92L160.24 648.74L161.6 649.56L165.68 651.2L167.04 652.02L167.72 652.84L168.4 654.48L168.4 656.94L167.04 658.58L165 659.4L162.28 659.4L160.24 658.58L158.88 656.94M173.5 658.08h1v1h-1zM202.1 644.64L200.74 643L198.7 642.18L195.98 642.18L193.94 643L192.58 644.64L192.58 646.28L193.26 647.92L193.94 648.74L195.3 649.56L199.38 651.2L200.74 652.02L201.42 652.84L202.1 654.48L202.1 656.94L200.74 658.58L198.7 659.4L195.98 659.4L193.94 658.58L192.58 656.94M207.31 652.84L215.47 652.84L215.47 651.2L214.79 649.56L214.11 648.74L212.75 647.92L210.71 647.92L209.35 648.74L207.99 650.38L207.31 652.84L207.31 654.48L207.99 656.94L209.35 658.58L210.71 659.4L212.75 659.4L214.11 658.58L215.47 656.94M221.35 642.18L221.35 659.4M221.35 650.38L222.71 648.74L224.07 647.92L226.11 647.92L227.47 648.74L228.83 650.38L229.51 652.84L229.51 654.48L228.83 656.94L227.47 658.58L226.11 659.4L224.07 659.4L222.71 658.58L221.35 656.94M242.82 647.92L242.82 659.4M242.82 650.38L241.46 648.74L240.1 647.92L238.06 647.92L236.7 648.74L235.34 650.38L234.66 652.84L234.66 654.48L235.34 656.94L236.7 658.58L238.06 659.4L240.1 659.4L241.46 658.58L242.82 656.94M256.13 650.38L255.45 648.74L253.41 647.92L251.37 647.92L249.33 648.74L248.65 650.38L249.33 652.02L250.69 652.84L254.09 653.66L255.45 654.48L256.13 656.12L256.13 656.94L255.45 658.58L253.41 659.4L251.37 659.4L249.33 658.58L248.65 656.94M262.4 642.18L262.4 656.12L263.08 658.58L264.44 659.4L265.8 659.4M260.36 647.92L265.12 647.92M269.86 642.18L270.54 643L271.22 642.18L270.54 641.36L269.86 642.18M270.54 647.92L270.54 659.4M284.23 647.92L284.23 659.4M284.23 650.38L282.87 648.74L281.51 647.92L279.47 647.92L278.11 648.74L276.75 650.38L276.07 652.84L276.07 654.48L276.75 656.94L278.11 658.58L279.47 659.4L281.51 659.4L282.87 658.58L284.23 656.94M293.52 647.92L292.16 648.74L290.8 650.38L290.12 652.84L290.12 654.48L290.8 656.94L292.16 658.58L293.52 659.4L295.56 659.4L296.92 658.58L298.28 656.94L298.96 654.48L298.96 652.84L298.28 650.38L296.92 648.74L295.56 647.92L293.52 647.92M324.53 642.18L324.53 659.4M324.53 650.38L323.17 648.74L321.81 647.92L319.77 647.92L318.41 648.74L317.05 650.38L316.37 652.84L316.37 654.48L317.05 656.94L318.41 658.58L319.77 659.4L321.81 659.4L323.17 658.58L324.53 656.94M333.82 647.92L332.46 648.74L331.1 650.38L330.42 652.84L330.42 654.48L331.1 656.94L332.46 658.58L333.82 659.4L335.86 659.4L337.22 658.58L338.58 656.94L339.26 654.48L339.26 652.84L338.58 650.38L337.22 648.74L335.86 647.92L333.82 647.92M360.75 642.18L355.31 659.4M360.75 642.18L366.19 659.4M357.35 653.66L364.15 653.66M370.36 642.18L370.36 659.4M377.01 642.18L377.01 656.12L377.69 658.58L379.05 659.4L380.41 659.4M374.97 647.92L379.73 647.92M388.16 647.92L386.8 648.74L385.44 650.38L384.76 652.84L384.76 654.48L385.44 656.94L386.8 658.58L388.16 659.4L390.2 659.4L391.56 658.58L392.92 656.94L393.6 654.48L393.6 652.84L392.92 650.38L391.56 648.74L390.2 647.92L388.16 647.92M416.33 638.9L414.97 640.54L413.61 643L412.25 646.28L411.57 650.38L411.57 653.66L412.25 657.76L413.61 661.04L414.97 663.5L416.33 665.14M422.1 642.18L422.1 659.4M422.1 659.4L430.26 659.4M437.33 647.92L435.97 648.74L434.61 650.38L433.93 652.84L433.93 654.48L434.61 656.94L435.97 658.58L437.33 659.4L439.37 659.4L440.73 658.58L442.09 656.94L442.77 654.48L442.77 652.84L442.09 650.38L440.73 648.74L439.37 647.92L437.33 647.92M448.66 647.92L448.66 659.4M448.66 651.2L450.7 648.74L452.06 647.92L454.1 647.92L455.46 648.74L456.14 651.2L456.14 659.4M461.91 648.24h1v1h-1zM461.91 658.08h1v1h-1zM469.78 652.02L482.02 652.02M494.95 642.18L488.15 653.66L498.35 653.66M494.95 642.18L494.95 659.4M503.62 646.28L503.62 645.46L504.3 643.82L504.98 643L506.34 642.18L509.06 642.18L510.42 643L511.1 643.82L511.78 645.46L511.78 647.1L511.1 648.74L509.74 651.2L502.94 659.4L512.46 659.4M517.55 658.08h1v1h-1zM526.47 645.46L527.83 644.64L529.87 642.18L529.87 659.4M540.58 642.18L548.06 642.18L543.98 648.74L546.02 648.74L547.38 649.56L548.06 650.38L548.74 652.84L548.74 654.48L548.06 656.94L546.7 658.58L544.66 659.4L542.62 659.4L540.58 658.58L539.9 657.76L539.22 656.12M554.69 646.28L554.69 645.46L555.37 643.82L556.05 643L557.41 642.18L560.13 642.18L561.49 643L562.17 643.82L562.85 645.46L562.85 647.1L562.17 648.74L560.81 651.2L554.01 659.4L563.53 659.4M572.19 642.18L570.15 643L569.47 644.64L569.47 646.28L570.15 647.92L571.51 648.74L574.23 649.56L576.27 650.38L577.63 652.02L578.31 653.66L578.31 656.12L577.63 657.76L576.95 658.58L574.91 659.4L572.19 659.4L570.15 658.58L569.47 657.76L568.79 656.12L568.79 653.66L569.47 652.02L570.83 650.38L572.87 649.56L575.59 648.74L576.95 647.92L577.63 646.28L577.63 644.64L576.95 643L574.91 642.18L572.19 642.18M583.41 658.08h1v1h-1zM584.59 658.58L583.23 661.86M590.18 642.18L590.18 659.4M590.18 659.4L598.34 659.4M610.17 647.92L610.17 659.4M610.17 650.38L608.81 648.74L607.45 647.92L605.41 647.92L604.05 648.74L602.69 650.38L602.01 652.84L602.01 654.48L602.69 656.94L604.05 658.58L605.41 659.4L607.45 659.4L608.81 658.58L610.17 656.94M617.18 642.18L617.18 656.12L617.86 658.58L619.22 659.4L620.58 659.4M615.14 647.92L619.9 647.92M624.81 648.24h1v1h-1zM624.81 658.08h1v1h-1zM632.68 652.02L644.92 652.02M651.73 646.28L651.73 645.46L652.41 643.82L653.09 643L654.45 642.18L657.17 642.18L658.53 643L659.21 643.82L659.89 645.46L659.89 647.1L659.21 648.74L657.85 651.2L651.05 659.4L660.57 659.4M667.88 645.46L669.24 644.64L671.28 642.18L671.28 659.4M680.45 658.08h1v1h-1zM696.17 647.92L695.49 650.38L694.13 652.02L692.09 652.84L691.41 652.84L689.37 652.02L688.01 650.38L687.33 647.92L687.33 647.1L688.01 644.64L689.37 643L691.41 642.18L692.09 642.18L694.13 643L695.49 644.64L696.17 647.92L696.17 652.02L695.49 656.12L694.13 658.58L692.09 659.4L690.73 659.4L688.69 658.58L688.01 656.94M710.28 642.18L703.48 642.18L702.8 649.56L703.48 648.74L705.52 647.92L707.56 647.92L709.6 648.74L710.96 650.38L711.64 652.84L711.64 654.48L710.96 656.94L709.6 658.58L707.56 659.4L705.52 659.4L703.48 658.58L702.8 657.76L702.12 656.12M726.43 642.18L719.63 659.4M716.91 642.18L726.43 642.18M735.09 642.18L733.05 643L732.37 644.64L732.37 646.28L733.05 647.92L734.41 648.74L737.13 649.56L739.17 650.38L740.53 652.02L741.21 653.66L741.21 656.12L740.53 657.76L739.85 658.58L737.81 659.4L735.09 659.4L733.05 658.58L732.37 657.76L731.69 656.12L731.69 653.66L732.37 652.02L733.73 650.38L735.77 649.56L738.49 648.74L739.85 647.92L740.53 646.28L740.53 644.64L739.85 643L737.81 642.18L735.09 642.18M746.3 638.9L747.66 640.54L749.02 643L750.38 646.28L751.06 650.38L751.06 653.66L750.38 657.76L749.02 661.04L747.66 663.5L746.3 665.14" stroke="#404040" stroke-width="0.95" fill="none" stroke-linecap="round" stroke-linejoin="round"/>
<path d="M99.49 1126.42L112.4 1130.66M99.49 1126.42L112.4 1122.18M108.09 1129.07L108.09 1123.77M103.79 1118.45L112.4 1118.45M106.25 1118.45L104.41 1116.86L103.79 1115.8L103.79 1114.21L104.41 1113.15L106.25 1112.62L112.4 1112.62M103.79 1105.12L104.41 1106.18L105.64 1107.24L107.48 1107.77L108.71 1107.77L110.56 1107.24L111.79 1106.18L112.4 1105.12L112.4 1103.53L111.79 1102.47L110.56 1101.41L108.71 1100.88L107.48 1100.88L105.64 1101.41L104.41 1102.47L103.79 1103.53L103.79 1105.12M103.79 1095.67L112.4 1095.67M106.25 1095.67L104.41 1094.08L103.79 1093.02L103.79 1091.43L104.41 1090.37L106.25 1089.84L112.4 1089.84M106.25 1089.84L104.41 1088.25L103.79 1087.19L103.79 1085.6L104.41 1084.54L106.25 1084.01L112.4 1084.01M103.79 1072.5L112.4 1072.5M105.64 1072.5L104.41 1073.56L103.79 1074.62L103.79 1076.21L104.41 1077.27L105.64 1078.33L107.48 1078.86L108.71 1078.86L110.56 1078.33L111.79 1077.27L112.4 1076.21L112.4 1074.62L111.79 1073.56L110.56 1072.5M99.49 1067.42L112.4 1067.42M99.49 1063.23L100.1 1062.7L99.49 1062.17L98.87 1062.7L99.49 1063.23M103.79 1062.7L112.4 1062.7M103.79 1051.85L112.4 1051.85M105.64 1051.85L104.41 1052.91L103.79 1053.97L103.79 1055.56L104.41 1056.62L105.64 1057.68L107.48 1058.21L108.71 1058.21L110.56 1057.68L111.79 1056.62L112.4 1055.56L112.4 1053.97L111.79 1052.91L110.56 1051.85M99.49 1031.2L112.4 1031.2M105.64 1031.2L104.41 1032.26L103.79 1033.32L103.79 1034.91L104.41 1035.97L105.64 1037.03L107.48 1037.56L108.71 1037.56L110.56 1037.03L111.79 1035.97L112.4 1034.91L112.4 1033.32L111.79 1032.26L110.56 1031.2M107.48 1026.35L107.48 1019.99L106.25 1019.99L105.02 1020.52L104.41 1021.05L103.79 1022.11L103.79 1023.7L104.41 1024.76L105.64 1025.82L107.48 1026.35L108.71 1026.35L110.56 1025.82L111.79 1024.76L112.4 1023.7L112.4 1022.11L111.79 1021.05L110.56 1019.99M99.49 1003.7L112.4 1003.7M99.49 1007.41L99.49 999.99M107.48 996.85L107.48 990.49L106.25 990.49L105.02 991.02L104.41 991.55L103.79 992.61L103.79 994.2L104.41 995.26L105.64 996.32L107.48 996.85L108.71 996.85L110.56 996.32L111.79 995.26L112.4 994.2L112.4 992.61L111.79 991.55L110.56 990.49M103.79 985.34L112.4 985.34M106.25 985.34L104.41 983.75L103.79 982.69L103.79 981.1L104.41 980.04L106.25 979.51L112.4 979.51M106.25 979.51L104.41 977.92L103.79 976.86L103.79 975.27L104.41 974.21L106.25 973.68L112.4 973.68M103.79 967.94L116.71 967.94M105.64 967.94L104.41 966.88L103.79 965.82L103.79 964.23L104.41 963.17L105.64 962.11L107.48 961.58L108.71 961.58L110.56 962.11L111.79 963.17L112.4 964.23L112.4 965.82L111.79 966.88L110.56 967.94M107.48 957.32L107.48 950.96L106.25 950.96L105.02 951.49L104.41 952.02L103.79 953.08L103.79 954.67L104.41 955.73L105.64 956.79L107.48 957.32L108.71 957.32L110.56 956.79L111.79 955.73L112.4 954.67L112.4 953.08L111.79 952.02L110.56 950.96M103.79 946.29L112.4 946.29M107.48 946.29L105.64 945.76L104.41 944.7L103.79 943.64L103.79 942.05M103.79 932.67L112.4 932.67M105.64 932.67L104.41 933.73L103.79 934.79L103.79 936.38L104.41 937.44L105.64 938.5L107.48 939.03L108.71 939.03L110.56 938.5L111.79 937.44L112.4 936.38L112.4 934.79L111.79 933.73L110.56 932.67M99.49 927L109.94 927L111.79 926.47L112.4 925.41L112.4 924.35M103.79 928.59L103.79 924.88M103.79 920.21L109.94 920.21L111.79 919.68L112.4 918.62L112.4 917.03L111.79 915.97L109.94 914.38M103.79 914.38L112.4 914.38M103.79 909.12L112.4 909.12M107.48 909.12L105.64 908.59L104.41 907.53L103.79 906.47L103.79 904.88M103.79 895.5L112.4 895.5M105.64 895.5L104.41 896.56L103.79 897.62L103.79 899.21L104.41 900.27L105.64 901.33L107.48 901.86L108.71 901.86L110.56 901.33L111.79 900.27L112.4 899.21L112.4 897.62L111.79 896.56L110.56 895.5M99.49 880.5L112.4 880.5M99.49 880.5L112.4 876.26M99.49 872.02L112.4 876.26M99.49 872.02L112.4 872.02M107.48 867.05L107.48 860.69L106.25 860.69L105.02 861.22L104.41 861.75L103.79 862.81L103.79 864.4L104.41 865.46L105.64 866.52L107.48 867.05L108.71 867.05L110.56 866.52L111.79 865.46L112.4 864.4L112.4 862.81L111.79 861.75L110.56 860.69M99.49 850.07L112.4 850.07M105.64 850.07L104.41 851.13L103.79 852.19L103.79 853.78L104.41 854.84L105.64 855.9L107.48 856.43L108.71 856.43L110.56 855.9L111.79 854.84L112.4 853.78L112.4 852.19L111.79 851.13L110.56 850.07M99.49 845.52L100.1 844.99L99.49 844.46L98.87 844.99L99.49 845.52M103.79 844.99L112.4 844.99M103.79 834.14L112.4 834.14M105.64 834.14L104.41 835.2L103.79 836.26L103.79 837.85L104.41 838.91L105.64 839.97L107.48 840.5L108.71 840.5L110.56 839.97L111.79 838.91L112.4 837.85L112.4 836.26L111.79 835.2L110.56 834.14M103.79 813.49L112.4 813.49M105.64 813.49L104.41 814.55L103.79 815.61L103.79 817.2L104.41 818.26L105.64 819.32L107.48 819.85L108.71 819.85L110.56 819.32L111.79 818.26L112.4 817.2L112.4 815.61L111.79 814.55L110.56 813.49M102.56 798.61L101.95 798.61L100.72 798.08L100.1 797.55L99.49 796.49L99.49 794.37L100.1 793.31L100.72 792.78L101.95 792.25L103.18 792.25L104.41 792.78L106.25 793.84L112.4 799.14L112.4 791.72M103.79 786.51L112.4 786.51M106.25 786.51L104.41 784.92L103.79 783.86L103.79 782.27L104.41 781.21L106.25 780.68L112.4 780.68M106.25 780.68L104.41 779.09L103.79 778.03L103.79 776.44L104.41 775.38L106.25 774.85L112.4 774.85M97.03 756.14L98.26 757.2L100.1 758.26L102.56 759.32L105.64 759.85L108.09 759.85L111.17 759.32L113.63 758.26L115.48 757.2L116.71 756.14M103.79 749.35L104.41 750.41L105.64 751.47L107.48 752L108.71 752L110.56 751.47L111.79 750.41L112.4 749.35L112.4 747.76L111.79 746.7L110.56 745.64L108.71 745.11L107.48 745.11L105.64 745.64L104.41 746.7L103.79 747.76L103.79 749.35M102.56 732.78L101.33 733.31L100.1 734.37L99.49 735.43L99.49 737.55L100.1 738.61L101.33 739.67L102.56 740.2L104.41 740.73L107.48 740.73L109.33 740.2L110.56 739.67L111.79 738.61L112.4 737.55L112.4 735.43L111.79 734.37L110.56 733.31L109.33 732.78M97.03 728.52L98.26 727.46L100.1 726.4L102.56 725.34L105.64 724.81L108.09 724.81L111.17 725.34L113.63 726.4L115.48 727.46L116.71 728.52" stroke="#404040" stroke-width="0.95" fill="none" stroke-linecap="round" stroke-linejoin="round"/>
<path d="M145 1211.2H174" stroke="#c6c6c6" stroke-width="1.2" stroke-dasharray="3.1 1.3" fill="none"/>
<path d="M184 1206.65L184 1214M184 1206.65L186.64 1214M189.28 1206.65L186.64 1214M189.28 1206.65L189.28 1214M192.32 1211.2L196.28 1211.2L196.28 1210.5L195.95 1209.8L195.62 1209.45L194.97 1209.1L193.97 1209.1L193.31 1209.45L192.66 1210.15L192.32 1211.2L192.32 1211.9L192.66 1212.95L193.31 1213.65L193.97 1214L194.97 1214L195.62 1213.65L196.28 1212.95M199.44 1209.1L199.44 1214M199.44 1210.5L200.42 1209.45L201.08 1209.1L202.07 1209.1L202.73 1209.45L203.06 1210.5L203.06 1214M203.06 1210.5L204.05 1209.45L204.71 1209.1L205.7 1209.1L206.36 1209.45L206.69 1210.5L206.69 1214M210.21 1206.65L210.21 1214M210.21 1210.15L210.87 1209.45L211.53 1209.1L212.52 1209.1L213.18 1209.45L213.84 1210.15L214.17 1211.2L214.17 1211.9L213.84 1212.95L213.18 1213.65L212.52 1214L211.53 1214L210.87 1213.65L210.21 1212.95M217.04 1209.1L217.04 1214M217.04 1211.2L217.37 1210.15L218.03 1209.45L218.69 1209.1L219.68 1209.1M223.18 1209.1L222.51 1209.45L221.85 1210.15L221.53 1211.2L221.53 1211.9L221.85 1212.95L222.51 1213.65L223.18 1214L224.16 1214L224.82 1213.65L225.48 1212.95L225.81 1211.9L225.81 1211.2L225.48 1210.15L224.82 1209.45L224.16 1209.1L223.18 1209.1M232.06 1210.15L231.72 1209.45L230.73 1209.1L229.75 1209.1L228.75 1209.45L228.43 1210.15L228.75 1210.85L229.41 1211.2L231.06 1211.55L231.72 1211.9L232.06 1212.6L232.06 1212.95L231.72 1213.65L230.73 1214L229.75 1214L228.75 1213.65L228.43 1212.95M241.53 1208.05L242.19 1207.7L243.18 1206.65L243.18 1214M248.27 1210.85L254.21 1210.85M258.98 1206.65L257.99 1207L257.66 1207.7L257.66 1208.4L257.99 1209.1L258.65 1209.45L259.97 1209.8L260.96 1210.15L261.62 1210.85L261.95 1211.55L261.95 1212.6L261.62 1213.3L261.29 1213.65L260.3 1214L258.98 1214L257.99 1213.65L257.66 1213.3L257.33 1212.6L257.33 1211.55L257.66 1210.85L258.32 1210.15L259.31 1209.8L260.63 1209.45L261.29 1209.1L261.62 1208.4L261.62 1207.7L261.29 1207L260.3 1206.65L258.98 1206.65" stroke="#d2d2d2" stroke-width="1.2" fill="none" stroke-linecap="round" stroke-linejoin="round"/>
<path d="M290 1211.2H320" stroke="#9c9c9c" stroke-width="1.2" stroke-dasharray="3.1 1.3" fill="none"/>
<path d="M328.4 1206.65L328.4 1214M328.4 1206.65L331.04 1214M333.68 1206.65L331.04 1214M333.68 1206.65L333.68 1214M336.72 1211.2L340.68 1211.2L340.68 1210.5L340.35 1209.8L340.02 1209.45L339.36 1209.1L338.37 1209.1L337.71 1209.45L337.05 1210.15L336.72 1211.2L336.72 1211.9L337.05 1212.95L337.71 1213.65L338.37 1214L339.36 1214L340.02 1213.65L340.68 1212.95M343.83 1209.1L343.83 1214M343.83 1210.5L344.82 1209.45L345.48 1209.1L346.47 1209.1L347.13 1209.45L347.46 1210.5L347.46 1214M347.46 1210.5L348.45 1209.45L349.11 1209.1L350.1 1209.1L350.76 1209.45L351.09 1210.5L351.09 1214M354.61 1206.65L354.61 1214M354.61 1210.15L355.27 1209.45L355.93 1209.1L356.92 1209.1L357.58 1209.45L358.24 1210.15L358.57 1211.2L358.57 1211.9L358.24 1212.95L357.58 1213.65L356.92 1214L355.93 1214L355.27 1213.65L354.61 1212.95M361.44 1209.1L361.44 1214M361.44 1211.2L361.77 1210.15L362.43 1209.45L363.09 1209.1L364.08 1209.1M367.57 1209.1L366.91 1209.45L366.25 1210.15L365.92 1211.2L365.92 1211.9L366.25 1212.95L366.91 1213.65L367.57 1214L368.56 1214L369.22 1213.65L369.88 1212.95L370.21 1211.9L370.21 1211.2L369.88 1210.15L369.22 1209.45L368.56 1209.1L367.57 1209.1M376.45 1210.15L376.12 1209.45L375.13 1209.1L374.14 1209.1L373.15 1209.45L372.82 1210.15L373.15 1210.85L373.81 1211.2L375.46 1211.55L376.12 1211.9L376.45 1212.6L376.45 1212.95L376.12 1213.65L375.13 1214L374.14 1214L373.15 1213.65L372.82 1212.95M389.23 1209.1L388.9 1210.15L388.24 1210.85L387.25 1211.2L386.92 1211.2L385.93 1210.85L385.27 1210.15L384.94 1209.1L384.94 1208.75L385.27 1207.7L385.93 1207L386.92 1206.65L387.25 1206.65L388.24 1207L388.9 1207.7L389.23 1209.1L389.23 1210.85L388.9 1212.6L388.24 1213.65L387.25 1214L386.59 1214L385.6 1213.65L385.27 1212.95M392.67 1210.85L398.61 1210.85M402.72 1208.05L403.38 1207.7L404.37 1206.65L404.37 1214M413.32 1207.7L412.99 1207L412 1206.65L411.34 1206.65L410.35 1207L409.69 1208.05L409.36 1209.8L409.36 1211.55L409.69 1212.95L410.35 1213.65L411.34 1214L411.67 1214L412.66 1213.65L413.32 1212.95L413.65 1211.9L413.65 1211.55L413.32 1210.5L412.66 1209.8L411.67 1209.45L411.34 1209.45L410.35 1209.8L409.69 1210.5L409.36 1211.55" stroke="#a8a8a8" stroke-width="1.2" fill="none" stroke-linecap="round" stroke-linejoin="round"/>
<path d="M457.7 1211.2H487.4" stroke="#626262" stroke-width="1.2" stroke-dasharray="3.1 1.3" fill="none"/>
<path d="M497 1206.65L497 1214M497 1206.65L499.64 1214M502.28 1206.65L499.64 1214M502.28 1206.65L502.28 1214M505.32 1211.2L509.28 1211.2L509.28 1210.5L508.95 1209.8L508.62 1209.45L507.96 1209.1L506.97 1209.1L506.31 1209.45L505.65 1210.15L505.32 1211.2L505.32 1211.9L505.65 1212.95L506.31 1213.65L506.97 1214L507.96 1214L508.62 1213.65L509.28 1212.95M512.43 1209.1L512.43 1214M512.43 1210.5L513.42 1209.45L514.09 1209.1L515.08 1209.1L515.74 1209.45L516.06 1210.5L516.06 1214M516.06 1210.5L517.05 1209.45L517.72 1209.1L518.71 1209.1L519.37 1209.45L519.69 1210.5L519.69 1214M523.21 1206.65L523.21 1214M523.21 1210.15L523.87 1209.45L524.53 1209.1L525.52 1209.1L526.18 1209.45L526.84 1210.15L527.17 1211.2L527.17 1211.9L526.84 1212.95L526.18 1213.65L525.52 1214L524.53 1214L523.87 1213.65L523.21 1212.95M530.04 1209.1L530.04 1214M530.04 1211.2L530.37 1210.15L531.03 1209.45L531.69 1209.1L532.68 1209.1M536.17 1209.1L535.51 1209.45L534.86 1210.15L534.52 1211.2L534.52 1211.9L534.86 1212.95L535.51 1213.65L536.17 1214L537.16 1214L537.83 1213.65L538.49 1212.95L538.82 1211.9L538.82 1211.2L538.49 1210.15L537.83 1209.45L537.16 1209.1L536.17 1209.1M545.05 1210.15L544.73 1209.45L543.74 1209.1L542.75 1209.1L541.75 1209.45L541.42 1210.15L541.75 1210.85L542.41 1211.2L544.07 1211.55L544.73 1211.9L545.05 1212.6L545.05 1212.95L544.73 1213.65L543.74 1214L542.75 1214L541.75 1213.65L541.42 1212.95M554.53 1208.05L555.19 1207.7L556.18 1206.65L556.18 1214M565.46 1206.65L562.16 1214M560.84 1206.65L565.46 1206.65M568.58 1210.85L574.51 1210.85M577.96 1208.4L577.96 1208.05L578.29 1207.35L578.62 1207L579.28 1206.65L580.6 1206.65L581.26 1207L581.59 1207.35L581.92 1208.05L581.92 1208.75L581.59 1209.45L580.93 1210.5L577.63 1214L582.25 1214M588.89 1206.65L585.59 1206.65L585.26 1209.8L585.59 1209.45L586.58 1209.1L587.57 1209.1L588.56 1209.45L589.22 1210.15L589.55 1211.2L589.55 1211.9L589.22 1212.95L588.56 1213.65L587.57 1214L586.58 1214L585.59 1213.65L585.26 1213.3L584.93 1212.6" stroke="#888888" stroke-width="1.2" fill="none" stroke-linecap="round" stroke-linejoin="round"/>
<path d="M617 1211.2H648" stroke="#000" stroke-width="1.5" fill="none"/>
<path d="M656 1206.65L656 1214M656 1206.65L660.29 1206.65M656 1210.15L658.64 1210.15M656 1214L660.29 1214M662.9 1209.1L662.9 1214M662.9 1210.5L663.89 1209.45L664.55 1209.1L665.54 1209.1L666.2 1209.45L666.53 1210.5L666.53 1214M673.1 1210.15L672.77 1209.45L671.78 1209.1L670.79 1209.1L669.8 1209.45L669.47 1210.15L669.8 1210.85L670.46 1211.2L672.11 1211.55L672.77 1211.9L673.1 1212.6L673.1 1212.95L672.77 1213.65L671.78 1214L670.79 1214L669.8 1213.65L669.47 1212.95M675.71 1211.2L679.67 1211.2L679.67 1210.5L679.34 1209.8L679.01 1209.45L678.35 1209.1L677.36 1209.1L676.7 1209.45L676.04 1210.15L675.71 1211.2L675.71 1211.9L676.04 1212.95L676.7 1213.65L677.36 1214L678.35 1214L679.01 1213.65L679.67 1212.95M682.82 1209.1L682.82 1214M682.82 1210.5L683.81 1209.45L684.47 1209.1L685.46 1209.1L686.12 1209.45L686.45 1210.5L686.45 1214M686.45 1210.5L687.44 1209.45L688.1 1209.1L689.09 1209.1L689.75 1209.45L690.08 1210.5L690.08 1214M693.6 1206.65L693.6 1214M693.6 1210.15L694.25 1209.45L694.92 1209.1L695.91 1209.1L696.57 1209.45L697.23 1210.15L697.56 1211.2L697.56 1211.9L697.23 1212.95L696.57 1213.65L695.91 1214L694.92 1214L694.25 1213.65L693.6 1212.95M700.32 1206.65L700.32 1214M703.09 1211.2L707.05 1211.2L707.05 1210.5L706.72 1209.8L706.38 1209.45L705.73 1209.1L704.74 1209.1L704.08 1209.45L703.42 1210.15L703.09 1211.2L703.09 1211.9L703.42 1212.95L704.08 1213.65L704.74 1214L705.73 1214L706.38 1213.65L707.05 1212.95M715.93 1206.65L715.93 1214M715.93 1206.65L718.57 1214M721.21 1206.65L718.57 1214M721.21 1206.65L721.21 1214M724.25 1211.2L728.22 1211.2L728.22 1210.5L727.88 1209.8L727.56 1209.45L726.89 1209.1L725.91 1209.1L725.25 1209.45L724.59 1210.15L724.25 1211.2L724.25 1211.9L724.59 1212.95L725.25 1213.65L725.91 1214L726.89 1214L727.56 1213.65L728.22 1212.95M734.79 1209.1L734.79 1214M734.79 1210.15L734.12 1209.45L733.47 1209.1L732.48 1209.1L731.82 1209.45L731.15 1210.15L730.83 1211.2L730.83 1211.9L731.15 1212.95L731.82 1213.65L732.48 1214L733.47 1214L734.12 1213.65L734.79 1212.95M738.09 1209.1L738.09 1214M738.09 1210.5L739.08 1209.45L739.74 1209.1L740.73 1209.1L741.39 1209.45L741.72 1210.5L741.72 1214" stroke="#000" stroke-width="1.2" fill="none" stroke-linecap="round" stroke-linejoin="round"/>
<clipPath id="c2"><rect x="145.5" y="1290.5" width="618.0" height="509.0"/></clipPath>
<g fill="none" stroke-linecap="butt" clip-path="url(#c2)"><path d="M145.5 1537.4L454.5 1566.25L763.5 1597.5" stroke="#c6c6c6" stroke-width="1.5" stroke-dasharray="3 1.05"/><path d="M145.5 1615.5L454.5 1599L763.5 1562.5" stroke="#9c9c9c" stroke-width="1.5" stroke-dasharray="3 1.05"/><path d="M145.5 1640L454.5 1611.75L763.5 1614.5" stroke="#626262" stroke-width="1.5" stroke-dasharray="3 1.05"/><path d="M145.5 1624.25L454.5 1626.25L763.5 1628.5" stroke="#c6c6c6" stroke-width="1.5" stroke-dasharray="3 1.05"/><path d="M145.5 1595.25L454.5 1631.5L763.5 1650.5" stroke="#9c9c9c" stroke-width="1.5" stroke-dasharray="3 1.05"/><path d="M145.5 1658.5L454.5 1644L763.5 1636.25" stroke="#c6c6c6" stroke-width="1.5" stroke-dasharray="3 1.05"/><path d="M145.5 1674.5L454.5 1649.5L763.5 1606.5" stroke="#9c9c9c" stroke-width="1.5" stroke-dasharray="3 1.05"/><path d="M145.5 1676L454.5 1653.5L763.5 1618.25" stroke="#626262" stroke-width="1.5" stroke-dasharray="3 1.05"/><path d="M145.5 1629.5L454.5 1670L763.5 1689.5" stroke="#9c9c9c" stroke-width="1.5" stroke-dasharray="3 1.05"/><path d="M145.5 1716L454.5 1679.25L763.5 1663.25" stroke="#c6c6c6" stroke-width="1.5" stroke-dasharray="3 1.05"/><path d="M145.5 1761.75L454.5 1683.5L763.5 1597.5" stroke="#9c9c9c" stroke-width="1.5" stroke-dasharray="3 1.05"/><path d="M145.5 1745.25L454.5 1711L763.5 1665.5" stroke="#9c9c9c" stroke-width="1.5" stroke-dasharray="3 1.05"/><path d="M145.5 1708L454.5 1694L763.5 1694" stroke="#626262" stroke-width="1.5" stroke-dasharray="3 1.05"/><path d="M145.5 1710.75L454.5 1694L763.5 1682.5" stroke="#626262" stroke-width="1.5" stroke-dasharray="3 1.05"/><path d="M145.5 1668.5L454.5 1700.5L763.5 1712.25" stroke="#626262" stroke-width="1.5" stroke-dasharray="3 1.05"/><path d="M145.5 1677.5L454.5 1700.5L763.5 1680" stroke="#626262" stroke-width="1.5" stroke-dasharray="3 1.05"/><path d="M145.5 1649.25L454.5 1661L763.5 1628.5" stroke="#9c9c9c" stroke-width="1.5" stroke-dasharray="3 1.05"/><path d="M145.5 1660.5L454.5 1662.5L763.5 1656.5" stroke="#626262" stroke-width="1.5" stroke-dasharray="3 1.05"/><path d="M145.5 1664L454.5 1664L763.5 1659" stroke="#626262" stroke-width="1.5" stroke-dasharray="3 1.05"/><path d="M145.5 1666.5L454.5 1665.75L763.5 1660.25" stroke="#c6c6c6" stroke-width="1.5" stroke-dasharray="3 1.05"/><path d="M145.5 1629.5L454.5 1662L763.5 1662.5" stroke="#626262" stroke-width="1.5" stroke-dasharray="3 1.05"/><path d="M145.5 1662.25L454.5 1658.25L763.5 1645.25" stroke="#000" stroke-width="1.5"/></g>
<path d="M146 1545H763" stroke="rgb(250,60,60)" stroke-width="2" fill="none"/>
<rect x="145.5" y="1290.5" width="618.0" height="509.0" fill="none" stroke="#000" stroke-width="3"/>
<path d="M141 1799.5H145M141 1767.69H145M141 1735.88H145M141 1704.06H145M141 1672.25H145M141 1640.44H145M141 1608.62H145M141 1576.81H145M141 1545H145M141 1513.19H145M141 1481.38H145M141 1449.56H145M141 1417.75H145M141 1385.94H145M141 1354.12H145M141 1322.31H145M141 1290.5H145M145.5 1799.5V1803M454.5 1799.5V1803M763.5 1799.5V1803" stroke="#000" stroke-width="2" fill="none"/>
<path d="M126.56 1799.98L131.24 1799.98M135.51 1796.02L134.73 1796.35L134.47 1797.01L134.47 1797.67L134.73 1798.33L135.25 1798.66L136.29 1798.99L137.07 1799.32L137.59 1799.98L137.85 1800.64L137.85 1801.63L137.59 1802.29L137.33 1802.62L136.55 1802.95L135.51 1802.95L134.73 1802.62L134.47 1802.29L134.21 1801.63L134.21 1800.64L134.47 1799.98L134.99 1799.32L135.77 1798.99L136.81 1798.66L137.33 1798.33L137.59 1797.67L137.59 1797.01L137.33 1796.35L136.55 1796.02L135.51 1796.02M126.56 1768.17L131.24 1768.17M137.85 1764.21L135.25 1771.14M134.21 1764.21L137.85 1764.21M126.56 1736.36L131.24 1736.36M137.59 1733.38L137.33 1732.73L136.55 1732.39L136.03 1732.39L135.25 1732.73L134.73 1733.72L134.47 1735.37L134.47 1737.02L134.73 1738.34L135.25 1739L136.03 1739.33L136.29 1739.33L137.07 1739L137.59 1738.34L137.85 1737.35L137.85 1737.02L137.59 1736.03L137.07 1735.37L136.29 1735.04L136.03 1735.04L135.25 1735.37L134.73 1736.03L134.47 1737.02M126.56 1704.54L131.24 1704.54M137.33 1700.58L134.73 1700.58L134.47 1703.55L134.73 1703.22L135.51 1702.89L136.29 1702.89L137.07 1703.22L137.59 1703.88L137.85 1704.87L137.85 1705.53L137.59 1706.52L137.07 1707.18L136.29 1707.51L135.51 1707.51L134.73 1707.18L134.47 1706.85L134.21 1706.19M126.3 1672.73L130.98 1672.73M136.55 1668.77L133.95 1673.39L137.85 1673.39M136.55 1668.77L136.55 1675.7M126.56 1640.92L131.24 1640.92M134.73 1636.96L137.59 1636.96L136.03 1639.6L136.81 1639.6L137.33 1639.93L137.59 1640.26L137.85 1641.25L137.85 1641.91L137.59 1642.9L137.07 1643.56L136.29 1643.89L135.51 1643.89L134.73 1643.56L134.47 1643.23L134.21 1642.57M126.56 1609.11L131.24 1609.11M134.47 1606.8L134.47 1606.47L134.73 1605.81L134.99 1605.48L135.51 1605.14L136.55 1605.14L137.07 1605.48L137.33 1605.81L137.59 1606.47L137.59 1607.12L137.33 1607.79L136.81 1608.78L134.21 1612.08L137.85 1612.08M128.12 1577.29L132.8 1577.29M136.55 1574.65L137.07 1574.32L137.85 1573.33L137.85 1580.26M135.77 1541.52L134.99 1541.85L134.47 1542.84L134.21 1544.49L134.21 1545.48L134.47 1547.13L134.99 1548.12L135.77 1548.45L136.29 1548.45L137.07 1548.12L137.59 1547.13L137.85 1545.48L137.85 1544.49L137.59 1542.84L137.07 1541.85L136.29 1541.52L135.77 1541.52M136.55 1511.03L137.07 1510.7L137.85 1509.71L137.85 1516.64M134.47 1479.55L134.47 1479.22L134.73 1478.56L134.99 1478.23L135.51 1477.89L136.55 1477.89L137.07 1478.23L137.33 1478.56L137.59 1479.22L137.59 1479.88L137.33 1480.54L136.81 1481.53L134.21 1484.83L137.85 1484.83M134.73 1446.08L137.59 1446.08L136.03 1448.72L136.81 1448.72L137.33 1449.05L137.59 1449.38L137.85 1450.37L137.85 1451.03L137.59 1452.02L137.07 1452.68L136.29 1453.01L135.51 1453.01L134.73 1452.68L134.47 1452.35L134.21 1451.69M136.55 1414.27L133.95 1418.89L137.85 1418.89M136.55 1414.27L136.55 1421.2M137.33 1382.46L134.73 1382.46L134.47 1385.43L134.73 1385.1L135.51 1384.77L136.29 1384.77L137.07 1385.1L137.59 1385.76L137.85 1386.75L137.85 1387.41L137.59 1388.4L137.07 1389.06L136.29 1389.39L135.51 1389.39L134.73 1389.06L134.47 1388.73L134.21 1388.07M137.59 1351.63L137.33 1350.98L136.55 1350.64L136.03 1350.64L135.25 1350.98L134.73 1351.97L134.47 1353.62L134.47 1355.27L134.73 1356.59L135.25 1357.25L136.03 1357.58L136.29 1357.58L137.07 1357.25L137.59 1356.59L137.85 1355.6L137.85 1355.27L137.59 1354.28L137.07 1353.62L136.29 1353.29L136.03 1353.29L135.25 1353.62L134.73 1354.28L134.47 1355.27M137.85 1318.83L135.25 1325.76M134.21 1318.83L137.85 1318.83M135.51 1287.02L134.73 1287.35L134.47 1288.01L134.47 1288.67L134.73 1289.33L135.25 1289.66L136.29 1289.99L137.07 1290.32L137.59 1290.98L137.85 1291.64L137.85 1292.63L137.59 1293.29L137.33 1293.62L136.55 1293.95L135.51 1293.95L134.73 1293.62L134.47 1293.29L134.21 1292.63L134.21 1291.64L134.47 1290.98L134.99 1290.32L135.77 1289.99L136.81 1289.66L137.33 1289.33L137.59 1288.67L137.59 1288.01L137.33 1287.35L136.55 1287.02L135.51 1287.02M125.15 1805.14L125.15 1812.6M125.15 1805.14L128.66 1805.14M125.15 1808.69L127.31 1808.69M130.68 1809.76L133.92 1809.76L133.92 1809.05L133.65 1808.34L133.38 1807.98L132.84 1807.63L132.03 1807.63L131.49 1807.98L130.95 1808.69L130.68 1809.76L130.68 1810.47L130.95 1811.53L131.49 1812.24L132.03 1812.6L132.84 1812.6L133.38 1812.24L133.92 1811.53M136.2 1807.63L137.82 1812.6M139.44 1807.63L137.82 1812.6M146.43 1803.72L141.56 1815.08M149.2 1806.92L149.2 1806.56L149.47 1805.86L149.74 1805.5L150.28 1805.14L151.36 1805.14L151.9 1805.5L152.17 1805.86L152.44 1806.56L152.44 1807.27L152.17 1807.98L151.63 1809.05L148.93 1812.6L152.71 1812.6M158.94 1806.21L158.67 1805.5L157.86 1805.14L157.32 1805.14L156.51 1805.5L155.97 1806.56L155.7 1808.34L155.7 1810.12L155.97 1811.53L156.51 1812.24L157.32 1812.6L157.59 1812.6L158.4 1812.24L158.94 1811.53L159.21 1810.47L159.21 1810.12L158.94 1809.05L158.4 1808.34L157.59 1807.98L157.32 1807.98L156.51 1808.34L155.97 1809.05L155.7 1810.12M437.15 1805.14L437.15 1812.6M437.15 1805.14L439.31 1812.6M441.47 1805.14L439.31 1812.6M441.47 1805.14L441.47 1812.6M447.75 1807.63L447.75 1812.6M447.75 1808.69L447.21 1807.98L446.67 1807.63L445.86 1807.63L445.32 1807.98L444.78 1808.69L444.51 1809.76L444.51 1810.47L444.78 1811.53L445.32 1812.24L445.86 1812.6L446.67 1812.6L447.21 1812.24L447.75 1811.53M450.85 1807.63L450.85 1812.6M450.85 1809.76L451.12 1808.69L451.66 1807.98L452.2 1807.63L453.01 1807.63M459.61 1803.72L454.75 1815.08M462.39 1806.92L462.39 1806.56L462.66 1805.86L462.93 1805.5L463.47 1805.14L464.55 1805.14L465.09 1805.5L465.36 1805.86L465.63 1806.56L465.63 1807.27L465.36 1807.98L464.82 1809.05L462.12 1812.6L465.9 1812.6M472.13 1806.21L471.86 1805.5L471.05 1805.14L470.51 1805.14L469.7 1805.5L469.16 1806.56L468.89 1808.34L468.89 1810.12L469.16 1811.53L469.7 1812.24L470.51 1812.6L470.78 1812.6L471.59 1812.24L472.13 1811.53L472.4 1810.47L472.4 1810.12L472.13 1809.05L471.59 1808.34L470.78 1807.98L470.51 1807.98L469.7 1808.34L469.16 1809.05L468.89 1810.12M751.31 1805.14L749.15 1812.6M751.31 1805.14L753.47 1812.6M749.96 1810.12L752.66 1810.12M755.87 1805.14L755.87 1812.6M755.87 1808.69L756.4 1807.98L756.94 1807.63L757.75 1807.63L758.29 1807.98L758.84 1808.69L759.11 1809.76L759.11 1810.47L758.84 1811.53L758.29 1812.24L757.75 1812.6L756.94 1812.6L756.4 1812.24L755.87 1811.53M761.88 1807.63L761.88 1812.6M761.88 1809.76L762.14 1808.69L762.68 1807.98L763.23 1807.63L764.03 1807.63M770.64 1803.72L765.78 1815.08M773.41 1806.92L773.41 1806.56L773.68 1805.86L773.96 1805.5L774.5 1805.14L775.58 1805.14L776.12 1805.5L776.38 1805.86L776.65 1806.56L776.65 1807.27L776.38 1807.98L775.85 1809.05L773.14 1812.6L776.92 1812.6M783.15 1806.21L782.88 1805.5L782.08 1805.14L781.53 1805.14L780.73 1805.5L780.18 1806.56L779.91 1808.34L779.91 1810.12L780.18 1811.53L780.73 1812.24L781.53 1812.6L781.8 1812.6L782.62 1812.24L783.15 1811.53L783.42 1810.47L783.42 1810.12L783.15 1809.05L782.62 1808.34L781.8 1807.98L781.53 1807.98L780.73 1808.34L780.18 1809.05L779.91 1810.12" stroke="#000" stroke-width="2.3" fill="none" stroke-linecap="square" stroke-linejoin="miter"/>
<path d="M168.4 1262.64L167.04 1261L165 1260.18L162.28 1260.18L160.24 1261L158.88 1262.64L158.88 1264.28L159.56 1265.92L160.24 1266.74L161.6 1267.56L165.68 1269.2L167.04 1270.02L167.72 1270.84L168.4 1272.48L168.4 1274.94L167.04 1276.58L165 1277.4L162.28 1277.4L160.24 1276.58L158.88 1274.94M173.5 1276.08h1v1h-1zM202.1 1262.64L200.74 1261L198.7 1260.18L195.98 1260.18L193.94 1261L192.58 1262.64L192.58 1264.28L193.26 1265.92L193.94 1266.74L195.3 1267.56L199.38 1269.2L200.74 1270.02L201.42 1270.84L202.1 1272.48L202.1 1274.94L200.74 1276.58L198.7 1277.4L195.98 1277.4L193.94 1276.58L192.58 1274.94M207.31 1270.84L215.47 1270.84L215.47 1269.2L214.79 1267.56L214.11 1266.74L212.75 1265.92L210.71 1265.92L209.35 1266.74L207.99 1268.38L207.31 1270.84L207.31 1272.48L207.99 1274.94L209.35 1276.58L210.71 1277.4L212.75 1277.4L214.11 1276.58L215.47 1274.94M221.35 1260.18L221.35 1277.4M221.35 1268.38L222.71 1266.74L224.07 1265.92L226.11 1265.92L227.47 1266.74L228.83 1268.38L229.51 1270.84L229.51 1272.48L228.83 1274.94L227.47 1276.58L226.11 1277.4L224.07 1277.4L222.71 1276.58L221.35 1274.94M242.82 1265.92L242.82 1277.4M242.82 1268.38L241.46 1266.74L240.1 1265.92L238.06 1265.92L236.7 1266.74L235.34 1268.38L234.66 1270.84L234.66 1272.48L235.34 1274.94L236.7 1276.58L238.06 1277.4L240.1 1277.4L241.46 1276.58L242.82 1274.94M256.13 1268.38L255.45 1266.74L253.41 1265.92L251.37 1265.92L249.33 1266.74L248.65 1268.38L249.33 1270.02L250.69 1270.84L254.09 1271.66L255.45 1272.48L256.13 1274.12L256.13 1274.94L255.45 1276.58L253.41 1277.4L251.37 1277.4L249.33 1276.58L248.65 1274.94M262.4 1260.18L262.4 1274.12L263.08 1276.58L264.44 1277.4L265.8 1277.4M260.36 1265.92L265.12 1265.92M269.86 1260.18L270.54 1261L271.22 1260.18L270.54 1259.36L269.86 1260.18M270.54 1265.92L270.54 1277.4M284.23 1265.92L284.23 1277.4M284.23 1268.38L282.87 1266.74L281.51 1265.92L279.47 1265.92L278.11 1266.74L276.75 1268.38L276.07 1270.84L276.07 1272.48L276.75 1274.94L278.11 1276.58L279.47 1277.4L281.51 1277.4L282.87 1276.58L284.23 1274.94M293.52 1265.92L292.16 1266.74L290.8 1268.38L290.12 1270.84L290.12 1272.48L290.8 1274.94L292.16 1276.58L293.52 1277.4L295.56 1277.4L296.92 1276.58L298.28 1274.94L298.96 1272.48L298.96 1270.84L298.28 1268.38L296.92 1266.74L295.56 1265.92L293.52 1265.92M324.53 1260.18L324.53 1277.4M324.53 1268.38L323.17 1266.74L321.81 1265.92L319.77 1265.92L318.41 1266.74L317.05 1268.38L316.37 1270.84L316.37 1272.48L317.05 1274.94L318.41 1276.58L319.77 1277.4L321.81 1277.4L323.17 1276.58L324.53 1274.94M333.82 1265.92L332.46 1266.74L331.1 1268.38L330.42 1270.84L330.42 1272.48L331.1 1274.94L332.46 1276.58L333.82 1277.4L335.86 1277.4L337.22 1276.58L338.58 1274.94L339.26 1272.48L339.26 1270.84L338.58 1268.38L337.22 1266.74L335.86 1265.92L333.82 1265.92M360.75 1260.18L355.31 1277.4M360.75 1260.18L366.19 1277.4M357.35 1271.66L364.15 1271.66M370.36 1260.18L370.36 1277.4M377.01 1260.18L377.01 1274.12L377.69 1276.58L379.05 1277.4L380.41 1277.4M374.97 1265.92L379.73 1265.92M388.16 1265.92L386.8 1266.74L385.44 1268.38L384.76 1270.84L384.76 1272.48L385.44 1274.94L386.8 1276.58L388.16 1277.4L390.2 1277.4L391.56 1276.58L392.92 1274.94L393.6 1272.48L393.6 1270.84L392.92 1268.38L391.56 1266.74L390.2 1265.92L388.16 1265.92M416.33 1256.9L414.97 1258.54L413.61 1261L412.25 1264.28L411.57 1268.38L411.57 1271.66L412.25 1275.76L413.61 1279.04L414.97 1281.5L416.33 1283.14M422.1 1260.18L422.1 1277.4M422.1 1277.4L430.26 1277.4M437.33 1265.92L435.97 1266.74L434.61 1268.38L433.93 1270.84L433.93 1272.48L434.61 1274.94L435.97 1276.58L437.33 1277.4L439.37 1277.4L440.73 1276.58L442.09 1274.94L442.77 1272.48L442.77 1270.84L442.09 1268.38L440.73 1266.74L439.37 1265.92L437.33 1265.92M448.66 1265.92L448.66 1277.4M448.66 1269.2L450.7 1266.74L452.06 1265.92L454.1 1265.92L455.46 1266.74L456.14 1269.2L456.14 1277.4M461.91 1266.24h1v1h-1zM461.91 1276.08h1v1h-1zM469.78 1270.02L482.02 1270.02M494.95 1260.18L488.15 1271.66L498.35 1271.66M494.95 1260.18L494.95 1277.4M503.62 1264.28L503.62 1263.46L504.3 1261.82L504.98 1261L506.34 1260.18L509.06 1260.18L510.42 1261L511.1 1261.82L511.78 1263.46L511.78 1265.1L511.1 1266.74L509.74 1269.2L502.94 1277.4L512.46 1277.4M517.55 1276.08h1v1h-1zM526.47 1263.46L527.83 1262.64L529.87 1260.18L529.87 1277.4M540.58 1260.18L548.06 1260.18L543.98 1266.74L546.02 1266.74L547.38 1267.56L548.06 1268.38L548.74 1270.84L548.74 1272.48L548.06 1274.94L546.7 1276.58L544.66 1277.4L542.62 1277.4L540.58 1276.58L539.9 1275.76L539.22 1274.12M554.69 1264.28L554.69 1263.46L555.37 1261.82L556.05 1261L557.41 1260.18L560.13 1260.18L561.49 1261L562.17 1261.82L562.85 1263.46L562.85 1265.1L562.17 1266.74L560.81 1269.2L554.01 1277.4L563.53 1277.4M572.19 1260.18L570.15 1261L569.47 1262.64L569.47 1264.28L570.15 1265.92L571.51 1266.74L574.23 1267.56L576.27 1268.38L577.63 1270.02L578.31 1271.66L578.31 1274.12L577.63 1275.76L576.95 1276.58L574.91 1277.4L572.19 1277.4L570.15 1276.58L569.47 1275.76L568.79 1274.12L568.79 1271.66L569.47 1270.02L570.83 1268.38L572.87 1267.56L575.59 1266.74L576.95 1265.92L577.63 1264.28L577.63 1262.64L576.95 1261L574.91 1260.18L572.19 1260.18M583.41 1276.08h1v1h-1zM584.59 1276.58L583.23 1279.86M590.18 1260.18L590.18 1277.4M590.18 1277.4L598.34 1277.4M610.17 1265.92L610.17 1277.4M610.17 1268.38L608.81 1266.74L607.45 1265.92L605.41 1265.92L604.05 1266.74L602.69 1268.38L602.01 1270.84L602.01 1272.48L602.69 1274.94L604.05 1276.58L605.41 1277.4L607.45 1277.4L608.81 1276.58L610.17 1274.94M617.18 1260.18L617.18 1274.12L617.86 1276.58L619.22 1277.4L620.58 1277.4M615.14 1265.92L619.9 1265.92M624.81 1266.24h1v1h-1zM624.81 1276.08h1v1h-1zM632.68 1270.02L644.92 1270.02M651.73 1264.28L651.73 1263.46L652.41 1261.82L653.09 1261L654.45 1260.18L657.17 1260.18L658.53 1261L659.21 1261.82L659.89 1263.46L659.89 1265.1L659.21 1266.74L657.85 1269.2L651.05 1277.4L660.57 1277.4M667.88 1263.46L669.24 1262.64L671.28 1260.18L671.28 1277.4M680.45 1276.08h1v1h-1zM696.17 1265.92L695.49 1268.38L694.13 1270.02L692.09 1270.84L691.41 1270.84L689.37 1270.02L688.01 1268.38L687.33 1265.92L687.33 1265.1L688.01 1262.64L689.37 1261L691.41 1260.18L692.09 1260.18L694.13 1261L695.49 1262.64L696.17 1265.92L696.17 1270.02L695.49 1274.12L694.13 1276.58L692.09 1277.4L690.73 1277.4L688.69 1276.58L688.01 1274.94M710.28 1260.18L703.48 1260.18L702.8 1267.56L703.48 1266.74L705.52 1265.92L707.56 1265.92L709.6 1266.74L710.96 1268.38L711.64 1270.84L711.64 1272.48L710.96 1274.94L709.6 1276.58L707.56 1277.4L705.52 1277.4L703.48 1276.58L702.8 1275.76L702.12 1274.12M726.43 1260.18L719.63 1277.4M716.91 1260.18L726.43 1260.18M735.09 1260.18L733.05 1261L732.37 1262.64L732.37 1264.28L733.05 1265.92L734.41 1266.74L737.13 1267.56L739.17 1268.38L740.53 1270.02L741.21 1271.66L741.21 1274.12L740.53 1275.76L739.85 1276.58L737.81 1277.4L735.09 1277.4L733.05 1276.58L732.37 1275.76L731.69 1274.12L731.69 1271.66L732.37 1270.02L733.73 1268.38L735.77 1267.56L738.49 1266.74L739.85 1265.92L740.53 1264.28L740.53 1262.64L739.85 1261L737.81 1260.18L735.09 1260.18M746.3 1256.9L747.66 1258.54L749.02 1261L750.38 1264.28L751.06 1268.38L751.06 1271.66L750.38 1275.76L749.02 1279.04L747.66 1281.5L746.3 1283.14" stroke="#404040" stroke-width="0.95" fill="none" stroke-linecap="round" stroke-linejoin="round"/>
<path d="M99.49 1752.98L112.4 1757.22M99.49 1752.98L112.4 1748.74M108.09 1755.62L108.09 1750.33M103.79 1745.01L112.4 1745.01M106.25 1745.01L104.41 1743.42L103.79 1742.36L103.79 1740.77L104.41 1739.71L106.25 1739.18L112.4 1739.18M103.79 1731.68L104.41 1732.74L105.64 1733.8L107.48 1734.33L108.71 1734.33L110.56 1733.8L111.79 1732.74L112.4 1731.68L112.4 1730.09L111.79 1729.03L110.56 1727.97L108.71 1727.44L107.48 1727.44L105.64 1727.97L104.41 1729.03L103.79 1730.09L103.79 1731.68M103.79 1722.23L112.4 1722.23M106.25 1722.23L104.41 1720.63L103.79 1719.58L103.79 1717.99L104.41 1716.93L106.25 1716.39L112.4 1716.39M106.25 1716.39L104.41 1714.81L103.79 1713.75L103.79 1712.15L104.41 1711.1L106.25 1710.57L112.4 1710.57M103.79 1699.06L112.4 1699.06M105.64 1699.06L104.41 1700.12L103.79 1701.18L103.79 1702.77L104.41 1703.83L105.64 1704.88L107.48 1705.42L108.71 1705.42L110.56 1704.88L111.79 1703.83L112.4 1702.77L112.4 1701.18L111.79 1700.12L110.56 1699.06M99.49 1693.98L112.4 1693.98M99.49 1689.79L100.1 1689.26L99.49 1688.73L98.87 1689.26L99.49 1689.79M103.79 1689.26L112.4 1689.26M103.79 1678.4L112.4 1678.4M105.64 1678.4L104.41 1679.47L103.79 1680.53L103.79 1682.12L104.41 1683.18L105.64 1684.24L107.48 1684.77L108.71 1684.77L110.56 1684.24L111.79 1683.18L112.4 1682.12L112.4 1680.53L111.79 1679.47L110.56 1678.4M99.49 1657.76L112.4 1657.76M105.64 1657.76L104.41 1658.82L103.79 1659.88L103.79 1661.47L104.41 1662.53L105.64 1663.59L107.48 1664.12L108.71 1664.12L110.56 1663.59L111.79 1662.53L112.4 1661.47L112.4 1659.88L111.79 1658.82L110.56 1657.76M107.48 1652.91L107.48 1646.55L106.25 1646.55L105.02 1647.08L104.41 1647.61L103.79 1648.67L103.79 1650.26L104.41 1651.32L105.64 1652.38L107.48 1652.91L108.71 1652.91L110.56 1652.38L111.79 1651.32L112.4 1650.26L112.4 1648.67L111.79 1647.61L110.56 1646.55M99.49 1630.26L112.4 1630.26M99.49 1633.97L99.49 1626.55M107.48 1623.41L107.48 1617.05L106.25 1617.05L105.02 1617.58L104.41 1618.11L103.79 1619.16L103.79 1620.76L104.41 1621.82L105.64 1622.88L107.48 1623.41L108.71 1623.41L110.56 1622.88L111.79 1621.82L112.4 1620.76L112.4 1619.16L111.79 1618.11L110.56 1617.05M103.79 1611.89L112.4 1611.89M106.25 1611.89L104.41 1610.31L103.79 1609.25L103.79 1607.66L104.41 1606.6L106.25 1606.07L112.4 1606.07M106.25 1606.07L104.41 1604.48L103.79 1603.41L103.79 1601.83L104.41 1600.77L106.25 1600.24L112.4 1600.24M103.79 1594.5L116.71 1594.5M105.64 1594.5L104.41 1593.44L103.79 1592.38L103.79 1590.79L104.41 1589.73L105.64 1588.66L107.48 1588.13L108.71 1588.13L110.56 1588.66L111.79 1589.73L112.4 1590.79L112.4 1592.38L111.79 1593.44L110.56 1594.5M107.48 1583.88L107.48 1577.52L106.25 1577.52L105.02 1578.05L104.41 1578.58L103.79 1579.63L103.79 1581.23L104.41 1582.29L105.64 1583.35L107.48 1583.88L108.71 1583.88L110.56 1583.35L111.79 1582.29L112.4 1581.23L112.4 1579.63L111.79 1578.58L110.56 1577.52M103.79 1572.85L112.4 1572.85M107.48 1572.85L105.64 1572.32L104.41 1571.26L103.79 1570.2L103.79 1568.61M103.79 1559.23L112.4 1559.23M105.64 1559.23L104.41 1560.29L103.79 1561.35L103.79 1562.94L104.41 1564L105.64 1565.06L107.48 1565.59L108.71 1565.59L110.56 1565.06L111.79 1564L112.4 1562.94L112.4 1561.35L111.79 1560.29L110.56 1559.23M99.49 1553.56L109.94 1553.56L111.79 1553.03L112.4 1551.97L112.4 1550.91M103.79 1555.14L103.79 1551.44M103.79 1546.77L109.94 1546.77L111.79 1546.24L112.4 1545.18L112.4 1543.59L111.79 1542.53L109.94 1540.93M103.79 1540.93L112.4 1540.93M103.79 1535.68L112.4 1535.68M107.48 1535.68L105.64 1535.14L104.41 1534.09L103.79 1533.03L103.79 1531.43M103.79 1522.06L112.4 1522.06M105.64 1522.06L104.41 1523.12L103.79 1524.18L103.79 1525.77L104.41 1526.83L105.64 1527.88L107.48 1528.41L108.71 1528.41L110.56 1527.88L111.79 1526.83L112.4 1525.77L112.4 1524.18L111.79 1523.12L110.56 1522.06M99.49 1507.06L112.4 1507.06M99.49 1507.06L112.4 1502.82M99.49 1498.58L112.4 1502.82M99.49 1498.58L112.4 1498.58M103.79 1487.25L112.4 1487.25M105.64 1487.25L104.41 1488.31L103.79 1489.37L103.79 1490.95L104.41 1492.02L105.64 1493.08L107.48 1493.61L108.71 1493.61L110.56 1493.08L111.79 1492.02L112.4 1490.95L112.4 1489.37L111.79 1488.31L110.56 1487.25M103.79 1482.45L112.4 1476.62M103.79 1476.62L112.4 1482.45M99.49 1472.66L100.1 1472.14L99.49 1471.61L98.87 1472.14L99.49 1472.66M103.79 1472.14L112.4 1472.14M103.79 1466.76L112.4 1466.76M106.25 1466.76L104.41 1465.16L103.79 1464.11L103.79 1462.52L104.41 1461.45L106.25 1460.93L112.4 1460.93M106.25 1460.93L104.41 1459.34L103.79 1458.28L103.79 1456.68L104.41 1455.62L106.25 1455.1L112.4 1455.1M103.79 1443.59L112.4 1443.59M105.64 1443.59L104.41 1444.64L103.79 1445.71L103.79 1447.3L104.41 1448.36L105.64 1449.41L107.48 1449.95L108.71 1449.95L110.56 1449.41L111.79 1448.36L112.4 1447.3L112.4 1445.71L111.79 1444.64L110.56 1443.59M103.79 1422.94L112.4 1422.94M105.64 1422.94L104.41 1424L103.79 1425.06L103.79 1426.64L104.41 1427.71L105.64 1428.77L107.48 1429.3L108.71 1429.3L110.56 1428.77L111.79 1427.71L112.4 1426.64L112.4 1425.06L111.79 1424L110.56 1422.94M102.56 1408.06L101.95 1408.06L100.72 1407.53L100.1 1407L99.49 1405.94L99.49 1403.82L100.1 1402.76L100.72 1402.23L101.95 1401.7L103.18 1401.7L104.41 1402.23L106.25 1403.29L112.4 1408.59L112.4 1401.17M103.79 1395.96L112.4 1395.96M106.25 1395.96L104.41 1394.37L103.79 1393.31L103.79 1391.72L104.41 1390.66L106.25 1390.12L112.4 1390.12M106.25 1390.12L104.41 1388.54L103.79 1387.48L103.79 1385.89L104.41 1384.83L106.25 1384.3L112.4 1384.3M97.03 1365.59L98.26 1366.65L100.1 1367.71L102.56 1368.77L105.64 1369.3L108.09 1369.3L111.17 1368.77L113.63 1367.71L115.48 1366.65L116.71 1365.59M103.79 1358.8L104.41 1359.86L105.64 1360.92L107.48 1361.45L108.71 1361.45L110.56 1360.92L111.79 1359.86L112.4 1358.8L112.4 1357.21L111.79 1356.15L110.56 1355.09L108.71 1354.56L107.48 1354.56L105.64 1355.09L104.41 1356.15L103.79 1357.21L103.79 1358.8M102.56 1342.23L101.33 1342.76L100.1 1343.82L99.49 1344.88L99.49 1347L100.1 1348.06L101.33 1349.12L102.56 1349.65L104.41 1350.18L107.48 1350.18L109.33 1349.65L110.56 1349.12L111.79 1348.06L112.4 1347L112.4 1344.88L111.79 1343.82L110.56 1342.76L109.33 1342.23M97.03 1337.97L98.26 1336.91L100.1 1335.85L102.56 1334.79L105.64 1334.26L108.09 1334.26L111.17 1334.79L113.63 1335.85L115.48 1336.91L116.71 1337.97" stroke="#404040" stroke-width="0.95" fill="none" stroke-linecap="round" stroke-linejoin="round"/>
<path d="M145 1829.2H174" stroke="#c6c6c6" stroke-width="1.2" stroke-dasharray="3.1 1.3" fill="none"/>
<path d="M184 1824.65L184 1832M184 1824.65L186.64 1832M189.28 1824.65L186.64 1832M189.28 1824.65L189.28 1832M192.32 1829.2L196.28 1829.2L196.28 1828.5L195.95 1827.8L195.62 1827.45L194.97 1827.1L193.97 1827.1L193.31 1827.45L192.66 1828.15L192.32 1829.2L192.32 1829.9L192.66 1830.95L193.31 1831.65L193.97 1832L194.97 1832L195.62 1831.65L196.28 1830.95M199.44 1827.1L199.44 1832M199.44 1828.5L200.42 1827.45L201.08 1827.1L202.07 1827.1L202.73 1827.45L203.06 1828.5L203.06 1832M203.06 1828.5L204.05 1827.45L204.71 1827.1L205.7 1827.1L206.36 1827.45L206.69 1828.5L206.69 1832M210.21 1824.65L210.21 1832M210.21 1828.15L210.87 1827.45L211.53 1827.1L212.52 1827.1L213.18 1827.45L213.84 1828.15L214.17 1829.2L214.17 1829.9L213.84 1830.95L213.18 1831.65L212.52 1832L211.53 1832L210.87 1831.65L210.21 1830.95M217.04 1827.1L217.04 1832M217.04 1829.2L217.37 1828.15L218.03 1827.45L218.69 1827.1L219.68 1827.1M223.18 1827.1L222.51 1827.45L221.85 1828.15L221.53 1829.2L221.53 1829.9L221.85 1830.95L222.51 1831.65L223.18 1832L224.16 1832L224.82 1831.65L225.48 1830.95L225.81 1829.9L225.81 1829.2L225.48 1828.15L224.82 1827.45L224.16 1827.1L223.18 1827.1M232.06 1828.15L231.72 1827.45L230.73 1827.1L229.75 1827.1L228.75 1827.45L228.43 1828.15L228.75 1828.85L229.41 1829.2L231.06 1829.55L231.72 1829.9L232.06 1830.6L232.06 1830.95L231.72 1831.65L230.73 1832L229.75 1832L228.75 1831.65L228.43 1830.95M241.53 1826.05L242.19 1825.7L243.18 1824.65L243.18 1832M248.27 1828.85L254.21 1828.85M258.98 1824.65L257.99 1825L257.66 1825.7L257.66 1826.4L257.99 1827.1L258.65 1827.45L259.97 1827.8L260.96 1828.15L261.62 1828.85L261.95 1829.55L261.95 1830.6L261.62 1831.3L261.29 1831.65L260.3 1832L258.98 1832L257.99 1831.65L257.66 1831.3L257.33 1830.6L257.33 1829.55L257.66 1828.85L258.32 1828.15L259.31 1827.8L260.63 1827.45L261.29 1827.1L261.62 1826.4L261.62 1825.7L261.29 1825L260.3 1824.65L258.98 1824.65" stroke="#d2d2d2" stroke-width="1.2" fill="none" stroke-linecap="round" stroke-linejoin="round"/>
<path d="M290 1829.2H320" stroke="#9c9c9c" stroke-width="1.2" stroke-dasharray="3.1 1.3" fill="none"/>
<path d="M328.4 1824.65L328.4 1832M328.4 1824.65L331.04 1832M333.68 1824.65L331.04 1832M333.68 1824.65L333.68 1832M336.72 1829.2L340.68 1829.2L340.68 1828.5L340.35 1827.8L340.02 1827.45L339.36 1827.1L338.37 1827.1L337.71 1827.45L337.05 1828.15L336.72 1829.2L336.72 1829.9L337.05 1830.95L337.71 1831.65L338.37 1832L339.36 1832L340.02 1831.65L340.68 1830.95M343.83 1827.1L343.83 1832M343.83 1828.5L344.82 1827.45L345.48 1827.1L346.47 1827.1L347.13 1827.45L347.46 1828.5L347.46 1832M347.46 1828.5L348.45 1827.45L349.11 1827.1L350.1 1827.1L350.76 1827.45L351.09 1828.5L351.09 1832M354.61 1824.65L354.61 1832M354.61 1828.15L355.27 1827.45L355.93 1827.1L356.92 1827.1L357.58 1827.45L358.24 1828.15L358.57 1829.2L358.57 1829.9L358.24 1830.95L357.58 1831.65L356.92 1832L355.93 1832L355.27 1831.65L354.61 1830.95M361.44 1827.1L361.44 1832M361.44 1829.2L361.77 1828.15L362.43 1827.45L363.09 1827.1L364.08 1827.1M367.57 1827.1L366.91 1827.45L366.25 1828.15L365.92 1829.2L365.92 1829.9L366.25 1830.95L366.91 1831.65L367.57 1832L368.56 1832L369.22 1831.65L369.88 1830.95L370.21 1829.9L370.21 1829.2L369.88 1828.15L369.22 1827.45L368.56 1827.1L367.57 1827.1M376.45 1828.15L376.12 1827.45L375.13 1827.1L374.14 1827.1L373.15 1827.45L372.82 1828.15L373.15 1828.85L373.81 1829.2L375.46 1829.55L376.12 1829.9L376.45 1830.6L376.45 1830.95L376.12 1831.65L375.13 1832L374.14 1832L373.15 1831.65L372.82 1830.95M389.23 1827.1L388.9 1828.15L388.24 1828.85L387.25 1829.2L386.92 1829.2L385.93 1828.85L385.27 1828.15L384.94 1827.1L384.94 1826.75L385.27 1825.7L385.93 1825L386.92 1824.65L387.25 1824.65L388.24 1825L388.9 1825.7L389.23 1827.1L389.23 1828.85L388.9 1830.6L388.24 1831.65L387.25 1832L386.59 1832L385.6 1831.65L385.27 1830.95M392.67 1828.85L398.61 1828.85M402.72 1826.05L403.38 1825.7L404.37 1824.65L404.37 1832M413.32 1825.7L412.99 1825L412 1824.65L411.34 1824.65L410.35 1825L409.69 1826.05L409.36 1827.8L409.36 1829.55L409.69 1830.95L410.35 1831.65L411.34 1832L411.67 1832L412.66 1831.65L413.32 1830.95L413.65 1829.9L413.65 1829.55L413.32 1828.5L412.66 1827.8L411.67 1827.45L411.34 1827.45L410.35 1827.8L409.69 1828.5L409.36 1829.55" stroke="#a8a8a8" stroke-width="1.2" fill="none" stroke-linecap="round" stroke-linejoin="round"/>
<path d="M457.7 1829.2H487.4" stroke="#626262" stroke-width="1.2" stroke-dasharray="3.1 1.3" fill="none"/>
<path d="M497 1824.65L497 1832M497 1824.65L499.64 1832M502.28 1824.65L499.64 1832M502.28 1824.65L502.28 1832M505.32 1829.2L509.28 1829.2L509.28 1828.5L508.95 1827.8L508.62 1827.45L507.96 1827.1L506.97 1827.1L506.31 1827.45L505.65 1828.15L505.32 1829.2L505.32 1829.9L505.65 1830.95L506.31 1831.65L506.97 1832L507.96 1832L508.62 1831.65L509.28 1830.95M512.43 1827.1L512.43 1832M512.43 1828.5L513.42 1827.45L514.09 1827.1L515.08 1827.1L515.74 1827.45L516.06 1828.5L516.06 1832M516.06 1828.5L517.05 1827.45L517.72 1827.1L518.71 1827.1L519.37 1827.45L519.69 1828.5L519.69 1832M523.21 1824.65L523.21 1832M523.21 1828.15L523.87 1827.45L524.53 1827.1L525.52 1827.1L526.18 1827.45L526.84 1828.15L527.17 1829.2L527.17 1829.9L526.84 1830.95L526.18 1831.65L525.52 1832L524.53 1832L523.87 1831.65L523.21 1830.95M530.04 1827.1L530.04 1832M530.04 1829.2L530.37 1828.15L531.03 1827.45L531.69 1827.1L532.68 1827.1M536.17 1827.1L535.51 1827.45L534.86 1828.15L534.52 1829.2L534.52 1829.9L534.86 1830.95L535.51 1831.65L536.17 1832L537.16 1832L537.83 1831.65L538.49 1830.95L538.82 1829.9L538.82 1829.2L538.49 1828.15L537.83 1827.45L537.16 1827.1L536.17 1827.1M545.05 1828.15L544.73 1827.45L543.74 1827.1L542.75 1827.1L541.75 1827.45L541.42 1828.15L541.75 1828.85L542.41 1829.2L544.07 1829.55L544.73 1829.9L545.05 1830.6L545.05 1830.95L544.73 1831.65L543.74 1832L542.75 1832L541.75 1831.65L541.42 1830.95M554.53 1826.05L555.19 1825.7L556.18 1824.65L556.18 1832M565.46 1824.65L562.16 1832M560.84 1824.65L565.46 1824.65M568.58 1828.85L574.51 1828.85M577.96 1826.4L577.96 1826.05L578.29 1825.35L578.62 1825L579.28 1824.65L580.6 1824.65L581.26 1825L581.59 1825.35L581.92 1826.05L581.92 1826.75L581.59 1827.45L580.93 1828.5L577.63 1832L582.25 1832M588.89 1824.65L585.59 1824.65L585.26 1827.8L585.59 1827.45L586.58 1827.1L587.57 1827.1L588.56 1827.45L589.22 1828.15L589.55 1829.2L589.55 1829.9L589.22 1830.95L588.56 1831.65L587.57 1832L586.58 1832L585.59 1831.65L585.26 1831.3L584.93 1830.6" stroke="#888888" stroke-width="1.2" fill="none" stroke-linecap="round" stroke-linejoin="round"/>
<path d="M617 1829.2H648" stroke="#000" stroke-width="1.5" fill="none"/>
<path d="M656 1824.65L656 1832M656 1824.65L660.29 1824.65M656 1828.15L658.64 1828.15M656 1832L660.29 1832M662.9 1827.1L662.9 1832M662.9 1828.5L663.89 1827.45L664.55 1827.1L665.54 1827.1L666.2 1827.45L666.53 1828.5L666.53 1832M673.1 1828.15L672.77 1827.45L671.78 1827.1L670.79 1827.1L669.8 1827.45L669.47 1828.15L669.8 1828.85L670.46 1829.2L672.11 1829.55L672.77 1829.9L673.1 1830.6L673.1 1830.95L672.77 1831.65L671.78 1832L670.79 1832L669.8 1831.65L669.47 1830.95M675.71 1829.2L679.67 1829.2L679.67 1828.5L679.34 1827.8L679.01 1827.45L678.35 1827.1L677.36 1827.1L676.7 1827.45L676.04 1828.15L675.71 1829.2L675.71 1829.9L676.04 1830.95L676.7 1831.65L677.36 1832L678.35 1832L679.01 1831.65L679.67 1830.95M682.82 1827.1L682.82 1832M682.82 1828.5L683.81 1827.45L684.47 1827.1L685.46 1827.1L686.12 1827.45L686.45 1828.5L686.45 1832M686.45 1828.5L687.44 1827.45L688.1 1827.1L689.09 1827.1L689.75 1827.45L690.08 1828.5L690.08 1832M693.6 1824.65L693.6 1832M693.6 1828.15L694.25 1827.45L694.92 1827.1L695.91 1827.1L696.57 1827.45L697.23 1828.15L697.56 1829.2L697.56 1829.9L697.23 1830.95L696.57 1831.65L695.91 1832L694.92 1832L694.25 1831.65L693.6 1830.95M700.32 1824.65L700.32 1832M703.09 1829.2L707.05 1829.2L707.05 1828.5L706.72 1827.8L706.38 1827.45L705.73 1827.1L704.74 1827.1L704.08 1827.45L703.42 1828.15L703.09 1829.2L703.09 1829.9L703.42 1830.95L704.08 1831.65L704.74 1832L705.73 1832L706.38 1831.65L707.05 1830.95M715.93 1824.65L715.93 1832M715.93 1824.65L718.57 1832M721.21 1824.65L718.57 1832M721.21 1824.65L721.21 1832M724.25 1829.2L728.22 1829.2L728.22 1828.5L727.88 1827.8L727.56 1827.45L726.89 1827.1L725.91 1827.1L725.25 1827.45L724.59 1828.15L724.25 1829.2L724.25 1829.9L724.59 1830.95L725.25 1831.65L725.91 1832L726.89 1832L727.56 1831.65L728.22 1830.95M734.79 1827.1L734.79 1832M734.79 1828.15L734.12 1827.45L733.47 1827.1L732.48 1827.1L731.82 1827.45L731.15 1828.15L730.83 1829.2L730.83 1829.9L731.15 1830.95L731.82 1831.65L732.48 1832L733.47 1832L734.12 1831.65L734.79 1830.95M738.09 1827.1L738.09 1832M738.09 1828.5L739.08 1827.45L739.74 1827.1L740.73 1827.1L741.39 1827.45L741.72 1828.5L741.72 1832" stroke="#000" stroke-width="1.2" fill="none" stroke-linecap="round" stroke-linejoin="round"/>
<clipPath id="c3"><rect x="145.5" y="1908.5" width="618.0" height="509.0"/></clipPath>
<g fill="none" stroke-linecap="butt" clip-path="url(#c3)"><path d="M145.5 2174.5L454.5 2168.2L763.5 2153.7" stroke="#9c9c9c" stroke-width="1.5" stroke-dasharray="3 1.05"/><path d="M145.5 2178.4L454.5 2176.5L763.5 2172.7" stroke="#9c9c9c" stroke-width="1.5" stroke-dasharray="3 1.05"/><path d="M145.5 2176L454.5 2178.9L763.5 2190.5" stroke="#9c9c9c" stroke-width="1.5" stroke-dasharray="3 1.05"/><path d="M145.5 2168.7L454.5 2207L763.5 2253.5" stroke="#c6c6c6" stroke-width="1.5" stroke-dasharray="3 1.05"/><path d="M145.5 2185.2L454.5 2190L763.5 2187.6" stroke="#626262" stroke-width="1.5" stroke-dasharray="3 1.05"/><path d="M145.5 2197.5L454.5 2186.7L763.5 2180.5" stroke="#c6c6c6" stroke-width="1.5" stroke-dasharray="3 1.05"/><path d="M145.5 2193L454.5 2197.3L763.5 2198.3" stroke="#626262" stroke-width="1.5" stroke-dasharray="3 1.05"/><path d="M145.5 2199.25L454.5 2203.75L763.5 2181.25" stroke="#626262" stroke-width="1.5" stroke-dasharray="3 1.05"/><path d="M145.5 2202L454.5 2205L763.5 2202" stroke="#626262" stroke-width="1.5" stroke-dasharray="3 1.05"/><path d="M145.5 2196.5L454.5 2203L763.5 2193" stroke="#9c9c9c" stroke-width="1.5" stroke-dasharray="3 1.05"/><path d="M145.5 2188.1L454.5 2194L763.5 2197" stroke="#9c9c9c" stroke-width="1.5" stroke-dasharray="3 1.05"/><path d="M145.5 2202L454.5 2211.9L763.5 2226.25" stroke="#626262" stroke-width="1.5" stroke-dasharray="3 1.05"/><path d="M145.5 2205L454.5 2216.7L763.5 2235" stroke="#9c9c9c" stroke-width="1.5" stroke-dasharray="3 1.05"/><path d="M145.5 2207L454.5 2224.3L763.5 2237" stroke="#9c9c9c" stroke-width="1.5" stroke-dasharray="3 1.05"/><path d="M145.5 2211.25L454.5 2205L763.5 2203.75" stroke="#626262" stroke-width="1.5" stroke-dasharray="3 1.05"/><path d="M145.5 2217.6L454.5 2215.7L763.5 2222.5" stroke="#626262" stroke-width="1.5" stroke-dasharray="3 1.05"/><path d="M145.5 2199L454.5 2208L763.5 2208.25" stroke="#626262" stroke-width="1.5" stroke-dasharray="3 1.05"/><path d="M145.5 2210L454.5 2229.3L763.5 2240" stroke="#626262" stroke-width="1.5" stroke-dasharray="3 1.05"/><path d="M145.5 2195L454.5 2202.2L763.5 2206" stroke="#000" stroke-width="1.5"/></g>
<path d="M146 2163H763" stroke="rgb(250,60,60)" stroke-width="2" fill="none"/>
<rect x="145.5" y="1908.5" width="618.0" height="509.0" fill="none" stroke="#000" stroke-width="3"/>
<path d="M141 2417.5H145M141 2385.69H145M141 2353.88H145M141 2322.06H145M141 2290.25H145M141 2258.44H145M141 2226.62H145M141 2194.81H145M141 2163H145M141 2131.19H145M141 2099.38H145M141 2067.56H145M141 2035.75H145M141 2003.94H145M141 1972.12H145M141 1940.31H145M141 1908.5H145M145.5 2417.5V2421M454.5 2417.5V2421M763.5 2417.5V2421" stroke="#000" stroke-width="2" fill="none"/>
<path d="M126.56 2417.98L131.24 2417.98M135.51 2414.02L134.73 2414.35L134.47 2415.01L134.47 2415.67L134.73 2416.33L135.25 2416.66L136.29 2416.99L137.07 2417.32L137.59 2417.98L137.85 2418.64L137.85 2419.63L137.59 2420.29L137.33 2420.62L136.55 2420.95L135.51 2420.95L134.73 2420.62L134.47 2420.29L134.21 2419.63L134.21 2418.64L134.47 2417.98L134.99 2417.32L135.77 2416.99L136.81 2416.66L137.33 2416.33L137.59 2415.67L137.59 2415.01L137.33 2414.35L136.55 2414.02L135.51 2414.02M126.56 2386.17L131.24 2386.17M137.85 2382.21L135.25 2389.14M134.21 2382.21L137.85 2382.21M126.56 2354.36L131.24 2354.36M137.59 2351.38L137.33 2350.72L136.55 2350.39L136.03 2350.39L135.25 2350.72L134.73 2351.71L134.47 2353.36L134.47 2355.01L134.73 2356.34L135.25 2356.99L136.03 2357.32L136.29 2357.32L137.07 2356.99L137.59 2356.34L137.85 2355.34L137.85 2355.01L137.59 2354.02L137.07 2353.36L136.29 2353.03L136.03 2353.03L135.25 2353.36L134.73 2354.02L134.47 2355.01M126.56 2322.54L131.24 2322.54M137.33 2318.58L134.73 2318.58L134.47 2321.55L134.73 2321.22L135.51 2320.89L136.29 2320.89L137.07 2321.22L137.59 2321.88L137.85 2322.87L137.85 2323.53L137.59 2324.52L137.07 2325.18L136.29 2325.51L135.51 2325.51L134.73 2325.18L134.47 2324.85L134.21 2324.19M126.3 2290.73L130.98 2290.73M136.55 2286.77L133.95 2291.39L137.85 2291.39M136.55 2286.77L136.55 2293.7M126.56 2258.92L131.24 2258.92M134.73 2254.96L137.59 2254.96L136.03 2257.6L136.81 2257.6L137.33 2257.93L137.59 2258.26L137.85 2259.25L137.85 2259.91L137.59 2260.9L137.07 2261.56L136.29 2261.89L135.51 2261.89L134.73 2261.56L134.47 2261.23L134.21 2260.57M126.56 2227.11L131.24 2227.11M134.47 2224.79L134.47 2224.46L134.73 2223.8L134.99 2223.47L135.51 2223.14L136.55 2223.14L137.07 2223.47L137.33 2223.8L137.59 2224.46L137.59 2225.12L137.33 2225.78L136.81 2226.77L134.21 2230.07L137.85 2230.07M128.12 2195.29L132.8 2195.29M136.55 2192.65L137.07 2192.32L137.85 2191.33L137.85 2198.26M135.77 2159.52L134.99 2159.85L134.47 2160.84L134.21 2162.49L134.21 2163.48L134.47 2165.13L134.99 2166.12L135.77 2166.45L136.29 2166.45L137.07 2166.12L137.59 2165.13L137.85 2163.48L137.85 2162.49L137.59 2160.84L137.07 2159.85L136.29 2159.52L135.77 2159.52M136.55 2129.03L137.07 2128.7L137.85 2127.71L137.85 2134.64M134.47 2097.54L134.47 2097.21L134.73 2096.55L134.99 2096.22L135.51 2095.89L136.55 2095.89L137.07 2096.22L137.33 2096.55L137.59 2097.21L137.59 2097.88L137.33 2098.53L136.81 2099.52L134.21 2102.82L137.85 2102.82M134.73 2064.08L137.59 2064.08L136.03 2066.72L136.81 2066.72L137.33 2067.05L137.59 2067.38L137.85 2068.37L137.85 2069.03L137.59 2070.02L137.07 2070.68L136.29 2071.01L135.51 2071.01L134.73 2070.68L134.47 2070.35L134.21 2069.69M136.55 2032.27L133.95 2036.89L137.85 2036.89M136.55 2032.27L136.55 2039.2M137.33 2000.46L134.73 2000.46L134.47 2003.43L134.73 2003.1L135.51 2002.77L136.29 2002.77L137.07 2003.1L137.59 2003.76L137.85 2004.75L137.85 2005.41L137.59 2006.4L137.07 2007.06L136.29 2007.39L135.51 2007.39L134.73 2007.06L134.47 2006.73L134.21 2006.07M137.59 1969.63L137.33 1968.98L136.55 1968.64L136.03 1968.64L135.25 1968.98L134.73 1969.97L134.47 1971.62L134.47 1973.27L134.73 1974.59L135.25 1975.25L136.03 1975.58L136.29 1975.58L137.07 1975.25L137.59 1974.59L137.85 1973.6L137.85 1973.27L137.59 1972.28L137.07 1971.62L136.29 1971.29L136.03 1971.29L135.25 1971.62L134.73 1972.28L134.47 1973.27M137.85 1936.83L135.25 1943.76M134.21 1936.83L137.85 1936.83M135.51 1905.02L134.73 1905.35L134.47 1906.01L134.47 1906.67L134.73 1907.33L135.25 1907.66L136.29 1907.99L137.07 1908.32L137.59 1908.98L137.85 1909.64L137.85 1910.63L137.59 1911.29L137.33 1911.62L136.55 1911.95L135.51 1911.95L134.73 1911.62L134.47 1911.29L134.21 1910.63L134.21 1909.64L134.47 1908.98L134.99 1908.32L135.77 1907.99L136.81 1907.66L137.33 1907.33L137.59 1906.67L137.59 1906.01L137.33 1905.35L136.55 1905.02L135.51 1905.02M125.15 2423.14L125.15 2430.6M125.15 2423.14L128.66 2423.14M125.15 2426.69L127.31 2426.69M130.68 2427.76L133.92 2427.76L133.92 2427.05L133.65 2426.34L133.38 2425.99L132.84 2425.63L132.03 2425.63L131.49 2425.99L130.95 2426.69L130.68 2427.76L130.68 2428.47L130.95 2429.53L131.49 2430.24L132.03 2430.6L132.84 2430.6L133.38 2430.24L133.92 2429.53M136.2 2425.63L137.82 2430.6M139.44 2425.63L137.82 2430.6M146.43 2421.72L141.56 2433.09M149.2 2424.92L149.2 2424.57L149.47 2423.86L149.74 2423.5L150.28 2423.14L151.36 2423.14L151.9 2423.5L152.17 2423.86L152.44 2424.57L152.44 2425.28L152.17 2425.99L151.63 2427.05L148.93 2430.6L152.71 2430.6M158.94 2424.21L158.67 2423.5L157.86 2423.14L157.32 2423.14L156.51 2423.5L155.97 2424.57L155.7 2426.34L155.7 2428.11L155.97 2429.53L156.51 2430.24L157.32 2430.6L157.59 2430.6L158.4 2430.24L158.94 2429.53L159.21 2428.47L159.21 2428.11L158.94 2427.05L158.4 2426.34L157.59 2425.99L157.32 2425.99L156.51 2426.34L155.97 2427.05L155.7 2428.11M437.15 2423.14L437.15 2430.6M437.15 2423.14L439.31 2430.6M441.47 2423.14L439.31 2430.6M441.47 2423.14L441.47 2430.6M447.75 2425.63L447.75 2430.6M447.75 2426.69L447.21 2425.99L446.67 2425.63L445.86 2425.63L445.32 2425.99L444.78 2426.69L444.51 2427.76L444.51 2428.47L444.78 2429.53L445.32 2430.24L445.86 2430.6L446.67 2430.6L447.21 2430.24L447.75 2429.53M450.85 2425.63L450.85 2430.6M450.85 2427.76L451.12 2426.69L451.66 2425.99L452.2 2425.63L453.01 2425.63M459.61 2421.72L454.75 2433.09M462.39 2424.92L462.39 2424.57L462.66 2423.86L462.93 2423.5L463.47 2423.14L464.55 2423.14L465.09 2423.5L465.36 2423.86L465.63 2424.57L465.63 2425.28L465.36 2425.99L464.82 2427.05L462.12 2430.6L465.9 2430.6M472.13 2424.21L471.86 2423.5L471.05 2423.14L470.51 2423.14L469.7 2423.5L469.16 2424.57L468.89 2426.34L468.89 2428.11L469.16 2429.53L469.7 2430.24L470.51 2430.6L470.78 2430.6L471.59 2430.24L472.13 2429.53L472.4 2428.47L472.4 2428.11L472.13 2427.05L471.59 2426.34L470.78 2425.99L470.51 2425.99L469.7 2426.34L469.16 2427.05L468.89 2428.11M751.31 2423.14L749.15 2430.6M751.31 2423.14L753.47 2430.6M749.96 2428.11L752.66 2428.11M755.87 2423.14L755.87 2430.6M755.87 2426.69L756.4 2425.99L756.94 2425.63L757.75 2425.63L758.29 2425.99L758.84 2426.69L759.11 2427.76L759.11 2428.47L758.84 2429.53L758.29 2430.24L757.75 2430.6L756.94 2430.6L756.4 2430.24L755.87 2429.53M761.88 2425.63L761.88 2430.6M761.88 2427.76L762.14 2426.69L762.68 2425.99L763.23 2425.63L764.03 2425.63M770.64 2421.72L765.78 2433.09M773.41 2424.92L773.41 2424.57L773.68 2423.86L773.96 2423.5L774.5 2423.14L775.58 2423.14L776.12 2423.5L776.38 2423.86L776.65 2424.57L776.65 2425.28L776.38 2425.99L775.85 2427.05L773.14 2430.6L776.92 2430.6M783.15 2424.21L782.88 2423.5L782.08 2423.14L781.53 2423.14L780.73 2423.5L780.18 2424.57L779.91 2426.34L779.91 2428.11L780.18 2429.53L780.73 2430.24L781.53 2430.6L781.8 2430.6L782.62 2430.24L783.15 2429.53L783.42 2428.47L783.42 2428.11L783.15 2427.05L782.62 2426.34L781.8 2425.99L781.53 2425.99L780.73 2426.34L780.18 2427.05L779.91 2428.11" stroke="#000" stroke-width="2.3" fill="none" stroke-linecap="square" stroke-linejoin="miter"/>
<path d="M168.4 1880.64L167.04 1879L165 1878.18L162.28 1878.18L160.24 1879L158.88 1880.64L158.88 1882.28L159.56 1883.92L160.24 1884.74L161.6 1885.56L165.68 1887.2L167.04 1888.02L167.72 1888.84L168.4 1890.48L168.4 1892.94L167.04 1894.58L165 1895.4L162.28 1895.4L160.24 1894.58L158.88 1892.94M173.5 1894.08h1v1h-1zM202.1 1880.64L200.74 1879L198.7 1878.18L195.98 1878.18L193.94 1879L192.58 1880.64L192.58 1882.28L193.26 1883.92L193.94 1884.74L195.3 1885.56L199.38 1887.2L200.74 1888.02L201.42 1888.84L202.1 1890.48L202.1 1892.94L200.74 1894.58L198.7 1895.4L195.98 1895.4L193.94 1894.58L192.58 1892.94M207.31 1888.84L215.47 1888.84L215.47 1887.2L214.79 1885.56L214.11 1884.74L212.75 1883.92L210.71 1883.92L209.35 1884.74L207.99 1886.38L207.31 1888.84L207.31 1890.48L207.99 1892.94L209.35 1894.58L210.71 1895.4L212.75 1895.4L214.11 1894.58L215.47 1892.94M221.35 1878.18L221.35 1895.4M221.35 1886.38L222.71 1884.74L224.07 1883.92L226.11 1883.92L227.47 1884.74L228.83 1886.38L229.51 1888.84L229.51 1890.48L228.83 1892.94L227.47 1894.58L226.11 1895.4L224.07 1895.4L222.71 1894.58L221.35 1892.94M242.82 1883.92L242.82 1895.4M242.82 1886.38L241.46 1884.74L240.1 1883.92L238.06 1883.92L236.7 1884.74L235.34 1886.38L234.66 1888.84L234.66 1890.48L235.34 1892.94L236.7 1894.58L238.06 1895.4L240.1 1895.4L241.46 1894.58L242.82 1892.94M256.13 1886.38L255.45 1884.74L253.41 1883.92L251.37 1883.92L249.33 1884.74L248.65 1886.38L249.33 1888.02L250.69 1888.84L254.09 1889.66L255.45 1890.48L256.13 1892.12L256.13 1892.94L255.45 1894.58L253.41 1895.4L251.37 1895.4L249.33 1894.58L248.65 1892.94M262.4 1878.18L262.4 1892.12L263.08 1894.58L264.44 1895.4L265.8 1895.4M260.36 1883.92L265.12 1883.92M269.86 1878.18L270.54 1879L271.22 1878.18L270.54 1877.36L269.86 1878.18M270.54 1883.92L270.54 1895.4M284.23 1883.92L284.23 1895.4M284.23 1886.38L282.87 1884.74L281.51 1883.92L279.47 1883.92L278.11 1884.74L276.75 1886.38L276.07 1888.84L276.07 1890.48L276.75 1892.94L278.11 1894.58L279.47 1895.4L281.51 1895.4L282.87 1894.58L284.23 1892.94M293.52 1883.92L292.16 1884.74L290.8 1886.38L290.12 1888.84L290.12 1890.48L290.8 1892.94L292.16 1894.58L293.52 1895.4L295.56 1895.4L296.92 1894.58L298.28 1892.94L298.96 1890.48L298.96 1888.84L298.28 1886.38L296.92 1884.74L295.56 1883.92L293.52 1883.92M324.53 1878.18L324.53 1895.4M324.53 1886.38L323.17 1884.74L321.81 1883.92L319.77 1883.92L318.41 1884.74L317.05 1886.38L316.37 1888.84L316.37 1890.48L317.05 1892.94L318.41 1894.58L319.77 1895.4L321.81 1895.4L323.17 1894.58L324.53 1892.94M333.82 1883.92L332.46 1884.74L331.1 1886.38L330.42 1888.84L330.42 1890.48L331.1 1892.94L332.46 1894.58L333.82 1895.4L335.86 1895.4L337.22 1894.58L338.58 1892.94L339.26 1890.48L339.26 1888.84L338.58 1886.38L337.22 1884.74L335.86 1883.92L333.82 1883.92M360.75 1878.18L355.31 1895.4M360.75 1878.18L366.19 1895.4M357.35 1889.66L364.15 1889.66M370.36 1878.18L370.36 1895.4M377.01 1878.18L377.01 1892.12L377.69 1894.58L379.05 1895.4L380.41 1895.4M374.97 1883.92L379.73 1883.92M388.16 1883.92L386.8 1884.74L385.44 1886.38L384.76 1888.84L384.76 1890.48L385.44 1892.94L386.8 1894.58L388.16 1895.4L390.2 1895.4L391.56 1894.58L392.92 1892.94L393.6 1890.48L393.6 1888.84L392.92 1886.38L391.56 1884.74L390.2 1883.92L388.16 1883.92M416.33 1874.9L414.97 1876.54L413.61 1879L412.25 1882.28L411.57 1886.38L411.57 1889.66L412.25 1893.76L413.61 1897.04L414.97 1899.5L416.33 1901.14M422.1 1878.18L422.1 1895.4M422.1 1895.4L430.26 1895.4M437.33 1883.92L435.97 1884.74L434.61 1886.38L433.93 1888.84L433.93 1890.48L434.61 1892.94L435.97 1894.58L437.33 1895.4L439.37 1895.4L440.73 1894.58L442.09 1892.94L442.77 1890.48L442.77 1888.84L442.09 1886.38L440.73 1884.74L439.37 1883.92L437.33 1883.92M448.66 1883.92L448.66 1895.4M448.66 1887.2L450.7 1884.74L452.06 1883.92L454.1 1883.92L455.46 1884.74L456.14 1887.2L456.14 1895.4M461.91 1884.24h1v1h-1zM461.91 1894.08h1v1h-1zM469.78 1888.02L482.02 1888.02M494.95 1878.18L488.15 1889.66L498.35 1889.66M494.95 1878.18L494.95 1895.4M503.62 1882.28L503.62 1881.46L504.3 1879.82L504.98 1879L506.34 1878.18L509.06 1878.18L510.42 1879L511.1 1879.82L511.78 1881.46L511.78 1883.1L511.1 1884.74L509.74 1887.2L502.94 1895.4L512.46 1895.4M517.55 1894.08h1v1h-1zM526.47 1881.46L527.83 1880.64L529.87 1878.18L529.87 1895.4M540.58 1878.18L548.06 1878.18L543.98 1884.74L546.02 1884.74L547.38 1885.56L548.06 1886.38L548.74 1888.84L548.74 1890.48L548.06 1892.94L546.7 1894.58L544.66 1895.4L542.62 1895.4L540.58 1894.58L539.9 1893.76L539.22 1892.12M554.69 1882.28L554.69 1881.46L555.37 1879.82L556.05 1879L557.41 1878.18L560.13 1878.18L561.49 1879L562.17 1879.82L562.85 1881.46L562.85 1883.1L562.17 1884.74L560.81 1887.2L554.01 1895.4L563.53 1895.4M572.19 1878.18L570.15 1879L569.47 1880.64L569.47 1882.28L570.15 1883.92L571.51 1884.74L574.23 1885.56L576.27 1886.38L577.63 1888.02L578.31 1889.66L578.31 1892.12L577.63 1893.76L576.95 1894.58L574.91 1895.4L572.19 1895.4L570.15 1894.58L569.47 1893.76L568.79 1892.12L568.79 1889.66L569.47 1888.02L570.83 1886.38L572.87 1885.56L575.59 1884.74L576.95 1883.92L577.63 1882.28L577.63 1880.64L576.95 1879L574.91 1878.18L572.19 1878.18M583.41 1894.08h1v1h-1zM584.59 1894.58L583.23 1897.86M590.18 1878.18L590.18 1895.4M590.18 1895.4L598.34 1895.4M610.17 1883.92L610.17 1895.4M610.17 1886.38L608.81 1884.74L607.45 1883.92L605.41 1883.92L604.05 1884.74L602.69 1886.38L602.01 1888.84L602.01 1890.48L602.69 1892.94L604.05 1894.58L605.41 1895.4L607.45 1895.4L608.81 1894.58L610.17 1892.94M617.18 1878.18L617.18 1892.12L617.86 1894.58L619.22 1895.4L620.58 1895.4M615.14 1883.92L619.9 1883.92M624.81 1884.24h1v1h-1zM624.81 1894.08h1v1h-1zM632.68 1888.02L644.92 1888.02M651.73 1882.28L651.73 1881.46L652.41 1879.82L653.09 1879L654.45 1878.18L657.17 1878.18L658.53 1879L659.21 1879.82L659.89 1881.46L659.89 1883.1L659.21 1884.74L657.85 1887.2L651.05 1895.4L660.57 1895.4M667.88 1881.46L669.24 1880.64L671.28 1878.18L671.28 1895.4M680.45 1894.08h1v1h-1zM696.17 1883.92L695.49 1886.38L694.13 1888.02L692.09 1888.84L691.41 1888.84L689.37 1888.02L688.01 1886.38L687.33 1883.92L687.33 1883.1L688.01 1880.64L689.37 1879L691.41 1878.18L692.09 1878.18L694.13 1879L695.49 1880.64L696.17 1883.92L696.17 1888.02L695.49 1892.12L694.13 1894.58L692.09 1895.4L690.73 1895.4L688.69 1894.58L688.01 1892.94M710.28 1878.18L703.48 1878.18L702.8 1885.56L703.48 1884.74L705.52 1883.92L707.56 1883.92L709.6 1884.74L710.96 1886.38L711.64 1888.84L711.64 1890.48L710.96 1892.94L709.6 1894.58L707.56 1895.4L705.52 1895.4L703.48 1894.58L702.8 1893.76L702.12 1892.12M726.43 1878.18L719.63 1895.4M716.91 1878.18L726.43 1878.18M735.09 1878.18L733.05 1879L732.37 1880.64L732.37 1882.28L733.05 1883.92L734.41 1884.74L737.13 1885.56L739.17 1886.38L740.53 1888.02L741.21 1889.66L741.21 1892.12L740.53 1893.76L739.85 1894.58L737.81 1895.4L735.09 1895.4L733.05 1894.58L732.37 1893.76L731.69 1892.12L731.69 1889.66L732.37 1888.02L733.73 1886.38L735.77 1885.56L738.49 1884.74L739.85 1883.92L740.53 1882.28L740.53 1880.64L739.85 1879L737.81 1878.18L735.09 1878.18M746.3 1874.9L747.66 1876.54L749.02 1879L750.38 1882.28L751.06 1886.38L751.06 1889.66L750.38 1893.76L749.02 1897.04L747.66 1899.5L746.3 1901.14" stroke="#404040" stroke-width="0.95" fill="none" stroke-linecap="round" stroke-linejoin="round"/>
<path d="M99.49 2368.32L112.4 2372.56M99.49 2368.32L112.4 2364.08M108.09 2370.97L108.09 2365.67M103.79 2360.35L112.4 2360.35M106.25 2360.35L104.41 2358.76L103.79 2357.7L103.79 2356.11L104.41 2355.05L106.25 2354.52L112.4 2354.52M103.79 2347.02L104.41 2348.08L105.64 2349.14L107.48 2349.67L108.71 2349.67L110.56 2349.14L111.79 2348.08L112.4 2347.02L112.4 2345.43L111.79 2344.37L110.56 2343.31L108.71 2342.78L107.48 2342.78L105.64 2343.31L104.41 2344.37L103.79 2345.43L103.79 2347.02M103.79 2337.57L112.4 2337.57M106.25 2337.57L104.41 2335.98L103.79 2334.92L103.79 2333.33L104.41 2332.27L106.25 2331.74L112.4 2331.74M106.25 2331.74L104.41 2330.15L103.79 2329.09L103.79 2327.5L104.41 2326.44L106.25 2325.91L112.4 2325.91M103.79 2314.4L112.4 2314.4M105.64 2314.4L104.41 2315.46L103.79 2316.52L103.79 2318.11L104.41 2319.17L105.64 2320.23L107.48 2320.76L108.71 2320.76L110.56 2320.23L111.79 2319.17L112.4 2318.11L112.4 2316.52L111.79 2315.46L110.56 2314.4M99.49 2309.32L112.4 2309.32M99.49 2305.13L100.1 2304.6L99.49 2304.07L98.87 2304.6L99.49 2305.13M103.79 2304.6L112.4 2304.6M103.79 2293.75L112.4 2293.75M105.64 2293.75L104.41 2294.81L103.79 2295.87L103.79 2297.46L104.41 2298.52L105.64 2299.58L107.48 2300.11L108.71 2300.11L110.56 2299.58L111.79 2298.52L112.4 2297.46L112.4 2295.87L111.79 2294.81L110.56 2293.75M99.49 2273.1L112.4 2273.1M105.64 2273.1L104.41 2274.16L103.79 2275.22L103.79 2276.81L104.41 2277.87L105.64 2278.93L107.48 2279.46L108.71 2279.46L110.56 2278.93L111.79 2277.87L112.4 2276.81L112.4 2275.22L111.79 2274.16L110.56 2273.1M107.48 2268.25L107.48 2261.89L106.25 2261.89L105.02 2262.42L104.41 2262.95L103.79 2264.01L103.79 2265.6L104.41 2266.66L105.64 2267.72L107.48 2268.25L108.71 2268.25L110.56 2267.72L111.79 2266.66L112.4 2265.6L112.4 2264.01L111.79 2262.95L110.56 2261.89M99.49 2245.6L112.4 2245.6M99.49 2249.31L99.49 2241.89M107.48 2238.75L107.48 2232.39L106.25 2232.39L105.02 2232.92L104.41 2233.45L103.79 2234.51L103.79 2236.1L104.41 2237.16L105.64 2238.22L107.48 2238.75L108.71 2238.75L110.56 2238.22L111.79 2237.16L112.4 2236.1L112.4 2234.51L111.79 2233.45L110.56 2232.39M103.79 2227.24L112.4 2227.24M106.25 2227.24L104.41 2225.65L103.79 2224.59L103.79 2223L104.41 2221.94L106.25 2221.41L112.4 2221.41M106.25 2221.41L104.41 2219.82L103.79 2218.76L103.79 2217.17L104.41 2216.11L106.25 2215.58L112.4 2215.58M103.79 2209.84L116.71 2209.84M105.64 2209.84L104.41 2208.78L103.79 2207.72L103.79 2206.13L104.41 2205.07L105.64 2204.01L107.48 2203.48L108.71 2203.48L110.56 2204.01L111.79 2205.07L112.4 2206.13L112.4 2207.72L111.79 2208.78L110.56 2209.84M107.48 2199.22L107.48 2192.86L106.25 2192.86L105.02 2193.39L104.41 2193.92L103.79 2194.98L103.79 2196.57L104.41 2197.63L105.64 2198.69L107.48 2199.22L108.71 2199.22L110.56 2198.69L111.79 2197.63L112.4 2196.57L112.4 2194.98L111.79 2193.92L110.56 2192.86M103.79 2188.19L112.4 2188.19M107.48 2188.19L105.64 2187.66L104.41 2186.6L103.79 2185.54L103.79 2183.95M103.79 2174.57L112.4 2174.57M105.64 2174.57L104.41 2175.63L103.79 2176.69L103.79 2178.28L104.41 2179.34L105.64 2180.4L107.48 2180.93L108.71 2180.93L110.56 2180.4L111.79 2179.34L112.4 2178.28L112.4 2176.69L111.79 2175.63L110.56 2174.57M99.49 2168.9L109.94 2168.9L111.79 2168.37L112.4 2167.31L112.4 2166.25M103.79 2170.49L103.79 2166.78M103.79 2162.11L109.94 2162.11L111.79 2161.58L112.4 2160.52L112.4 2158.93L111.79 2157.87L109.94 2156.28M103.79 2156.28L112.4 2156.28M103.79 2151.02L112.4 2151.02M107.48 2151.02L105.64 2150.49L104.41 2149.43L103.79 2148.37L103.79 2146.78M103.79 2137.4L112.4 2137.4M105.64 2137.4L104.41 2138.46L103.79 2139.52L103.79 2141.11L104.41 2142.17L105.64 2143.23L107.48 2143.76L108.71 2143.76L110.56 2143.23L111.79 2142.17L112.4 2141.11L112.4 2139.52L111.79 2138.46L110.56 2137.4M99.49 2122.4L112.4 2122.4M99.49 2122.4L112.4 2118.16M99.49 2113.92L112.4 2118.16M99.49 2113.92L112.4 2113.92M99.49 2109.25L100.1 2108.72L99.49 2108.19L98.87 2108.72L99.49 2109.25M103.79 2108.72L112.4 2108.72M103.79 2103.7L112.4 2103.7M106.25 2103.7L104.41 2102.11L103.79 2101.05L103.79 2099.46L104.41 2098.4L106.25 2097.87L112.4 2097.87M99.49 2093.32L100.1 2092.79L99.49 2092.26L98.87 2092.79L99.49 2093.32M103.79 2092.79L112.4 2092.79M103.79 2087.41L112.4 2087.41M106.25 2087.41L104.41 2085.82L103.79 2084.76L103.79 2083.17L104.41 2082.11L106.25 2081.58L112.4 2081.58M106.25 2081.58L104.41 2079.99L103.79 2078.93L103.79 2077.34L104.41 2076.28L106.25 2075.75L112.4 2075.75M103.79 2064.24L112.4 2064.24M105.64 2064.24L104.41 2065.3L103.79 2066.36L103.79 2067.95L104.41 2069.01L105.64 2070.07L107.48 2070.6L108.71 2070.6L110.56 2070.07L111.79 2069.01L112.4 2067.95L112.4 2066.36L111.79 2065.3L110.56 2064.24M103.79 2043.59L112.4 2043.59M105.64 2043.59L104.41 2044.65L103.79 2045.71L103.79 2047.3L104.41 2048.36L105.64 2049.42L107.48 2049.95L108.71 2049.95L110.56 2049.42L111.79 2048.36L112.4 2047.3L112.4 2045.71L111.79 2044.65L110.56 2043.59M102.56 2028.71L101.95 2028.71L100.72 2028.18L100.1 2027.65L99.49 2026.59L99.49 2024.47L100.1 2023.41L100.72 2022.88L101.95 2022.35L103.18 2022.35L104.41 2022.88L106.25 2023.94L112.4 2029.24L112.4 2021.82M103.79 2016.61L112.4 2016.61M106.25 2016.61L104.41 2015.02L103.79 2013.96L103.79 2012.37L104.41 2011.31L106.25 2010.78L112.4 2010.78M106.25 2010.78L104.41 2009.19L103.79 2008.13L103.79 2006.54L104.41 2005.48L106.25 2004.95L112.4 2004.95M97.03 1986.24L98.26 1987.3L100.1 1988.36L102.56 1989.42L105.64 1989.95L108.09 1989.95L111.17 1989.42L113.63 1988.36L115.48 1987.3L116.71 1986.24M103.79 1979.45L104.41 1980.51L105.64 1981.57L107.48 1982.1L108.71 1982.1L110.56 1981.57L111.79 1980.51L112.4 1979.45L112.4 1977.86L111.79 1976.8L110.56 1975.74L108.71 1975.21L107.48 1975.21L105.64 1975.74L104.41 1976.8L103.79 1977.86L103.79 1979.45M102.56 1962.88L101.33 1963.41L100.1 1964.47L99.49 1965.53L99.49 1967.65L100.1 1968.71L101.33 1969.77L102.56 1970.3L104.41 1970.83L107.48 1970.83L109.33 1970.3L110.56 1969.77L111.79 1968.71L112.4 1967.65L112.4 1965.53L111.79 1964.47L110.56 1963.41L109.33 1962.88M97.03 1958.62L98.26 1957.56L100.1 1956.5L102.56 1955.44L105.64 1954.91L108.09 1954.91L111.17 1955.44L113.63 1956.5L115.48 1957.56L116.71 1958.62" stroke="#404040" stroke-width="0.95" fill="none" stroke-linecap="round" stroke-linejoin="round"/>
<path d="M145 2447.2H174" stroke="#c6c6c6" stroke-width="1.2" stroke-dasharray="3.1 1.3" fill="none"/>
<path d="M184 2442.65L184 2450M184 2442.65L186.64 2450M189.28 2442.65L186.64 2450M189.28 2442.65L189.28 2450M192.32 2447.2L196.28 2447.2L196.28 2446.5L195.95 2445.8L195.62 2445.45L194.97 2445.1L193.97 2445.1L193.31 2445.45L192.66 2446.15L192.32 2447.2L192.32 2447.9L192.66 2448.95L193.31 2449.65L193.97 2450L194.97 2450L195.62 2449.65L196.28 2448.95M199.44 2445.1L199.44 2450M199.44 2446.5L200.42 2445.45L201.08 2445.1L202.07 2445.1L202.73 2445.45L203.06 2446.5L203.06 2450M203.06 2446.5L204.05 2445.45L204.71 2445.1L205.7 2445.1L206.36 2445.45L206.69 2446.5L206.69 2450M210.21 2442.65L210.21 2450M210.21 2446.15L210.87 2445.45L211.53 2445.1L212.52 2445.1L213.18 2445.45L213.84 2446.15L214.17 2447.2L214.17 2447.9L213.84 2448.95L213.18 2449.65L212.52 2450L211.53 2450L210.87 2449.65L210.21 2448.95M217.04 2445.1L217.04 2450M217.04 2447.2L217.37 2446.15L218.03 2445.45L218.69 2445.1L219.68 2445.1M223.18 2445.1L222.51 2445.45L221.85 2446.15L221.53 2447.2L221.53 2447.9L221.85 2448.95L222.51 2449.65L223.18 2450L224.16 2450L224.82 2449.65L225.48 2448.95L225.81 2447.9L225.81 2447.2L225.48 2446.15L224.82 2445.45L224.16 2445.1L223.18 2445.1M232.06 2446.15L231.72 2445.45L230.73 2445.1L229.75 2445.1L228.75 2445.45L228.43 2446.15L228.75 2446.85L229.41 2447.2L231.06 2447.55L231.72 2447.9L232.06 2448.6L232.06 2448.95L231.72 2449.65L230.73 2450L229.75 2450L228.75 2449.65L228.43 2448.95M241.53 2444.05L242.19 2443.7L243.18 2442.65L243.18 2450M248.27 2446.85L254.21 2446.85M258.98 2442.65L257.99 2443L257.66 2443.7L257.66 2444.4L257.99 2445.1L258.65 2445.45L259.97 2445.8L260.96 2446.15L261.62 2446.85L261.95 2447.55L261.95 2448.6L261.62 2449.3L261.29 2449.65L260.3 2450L258.98 2450L257.99 2449.65L257.66 2449.3L257.33 2448.6L257.33 2447.55L257.66 2446.85L258.32 2446.15L259.31 2445.8L260.63 2445.45L261.29 2445.1L261.62 2444.4L261.62 2443.7L261.29 2443L260.3 2442.65L258.98 2442.65" stroke="#d2d2d2" stroke-width="1.2" fill="none" stroke-linecap="round" stroke-linejoin="round"/>
<path d="M290 2447.2H320" stroke="#9c9c9c" stroke-width="1.2" stroke-dasharray="3.1 1.3" fill="none"/>
<path d="M328.4 2442.65L328.4 2450M328.4 2442.65L331.04 2450M333.68 2442.65L331.04 2450M333.68 2442.65L333.68 2450M336.72 2447.2L340.68 2447.2L340.68 2446.5L340.35 2445.8L340.02 2445.45L339.36 2445.1L338.37 2445.1L337.71 2445.45L337.05 2446.15L336.72 2447.2L336.72 2447.9L337.05 2448.95L337.71 2449.65L338.37 2450L339.36 2450L340.02 2449.65L340.68 2448.95M343.83 2445.1L343.83 2450M343.83 2446.5L344.82 2445.45L345.48 2445.1L346.47 2445.1L347.13 2445.45L347.46 2446.5L347.46 2450M347.46 2446.5L348.45 2445.45L349.11 2445.1L350.1 2445.1L350.76 2445.45L351.09 2446.5L351.09 2450M354.61 2442.65L354.61 2450M354.61 2446.15L355.27 2445.45L355.93 2445.1L356.92 2445.1L357.58 2445.45L358.24 2446.15L358.57 2447.2L358.57 2447.9L358.24 2448.95L357.58 2449.65L356.92 2450L355.93 2450L355.27 2449.65L354.61 2448.95M361.44 2445.1L361.44 2450M361.44 2447.2L361.77 2446.15L362.43 2445.45L363.09 2445.1L364.08 2445.1M367.57 2445.1L366.91 2445.45L366.25 2446.15L365.92 2447.2L365.92 2447.9L366.25 2448.95L366.91 2449.65L367.57 2450L368.56 2450L369.22 2449.65L369.88 2448.95L370.21 2447.9L370.21 2447.2L369.88 2446.15L369.22 2445.45L368.56 2445.1L367.57 2445.1M376.45 2446.15L376.12 2445.45L375.13 2445.1L374.14 2445.1L373.15 2445.45L372.82 2446.15L373.15 2446.85L373.81 2447.2L375.46 2447.55L376.12 2447.9L376.45 2448.6L376.45 2448.95L376.12 2449.65L375.13 2450L374.14 2450L373.15 2449.65L372.82 2448.95M389.23 2445.1L388.9 2446.15L388.24 2446.85L387.25 2447.2L386.92 2447.2L385.93 2446.85L385.27 2446.15L384.94 2445.1L384.94 2444.75L385.27 2443.7L385.93 2443L386.92 2442.65L387.25 2442.65L388.24 2443L388.9 2443.7L389.23 2445.1L389.23 2446.85L388.9 2448.6L388.24 2449.65L387.25 2450L386.59 2450L385.6 2449.65L385.27 2448.95M392.67 2446.85L398.61 2446.85M402.72 2444.05L403.38 2443.7L404.37 2442.65L404.37 2450M413.32 2443.7L412.99 2443L412 2442.65L411.34 2442.65L410.35 2443L409.69 2444.05L409.36 2445.8L409.36 2447.55L409.69 2448.95L410.35 2449.65L411.34 2450L411.67 2450L412.66 2449.65L413.32 2448.95L413.65 2447.9L413.65 2447.55L413.32 2446.5L412.66 2445.8L411.67 2445.45L411.34 2445.45L410.35 2445.8L409.69 2446.5L409.36 2447.55" stroke="#a8a8a8" stroke-width="1.2" fill="none" stroke-linecap="round" stroke-linejoin="round"/>
<path d="M457.7 2447.2H487.4" stroke="#626262" stroke-width="1.2" stroke-dasharray="3.1 1.3" fill="none"/>
<path d="M497 2442.65L497 2450M497 2442.65L499.64 2450M502.28 2442.65L499.64 2450M502.28 2442.65L502.28 2450M505.32 2447.2L509.28 2447.2L509.28 2446.5L508.95 2445.8L508.62 2445.45L507.96 2445.1L506.97 2445.1L506.31 2445.45L505.65 2446.15L505.32 2447.2L505.32 2447.9L505.65 2448.95L506.31 2449.65L506.97 2450L507.96 2450L508.62 2449.65L509.28 2448.95M512.43 2445.1L512.43 2450M512.43 2446.5L513.42 2445.45L514.09 2445.1L515.08 2445.1L515.74 2445.45L516.06 2446.5L516.06 2450M516.06 2446.5L517.05 2445.45L517.72 2445.1L518.71 2445.1L519.37 2445.45L519.69 2446.5L519.69 2450M523.21 2442.65L523.21 2450M523.21 2446.15L523.87 2445.45L524.53 2445.1L525.52 2445.1L526.18 2445.45L526.84 2446.15L527.17 2447.2L527.17 2447.9L526.84 2448.95L526.18 2449.65L525.52 2450L524.53 2450L523.87 2449.65L523.21 2448.95M530.04 2445.1L530.04 2450M530.04 2447.2L530.37 2446.15L531.03 2445.45L531.69 2445.1L532.68 2445.1M536.17 2445.1L535.51 2445.45L534.86 2446.15L534.52 2447.2L534.52 2447.9L534.86 2448.95L535.51 2449.65L536.17 2450L537.16 2450L537.83 2449.65L538.49 2448.95L538.82 2447.9L538.82 2447.2L538.49 2446.15L537.83 2445.45L537.16 2445.1L536.17 2445.1M545.05 2446.15L544.73 2445.45L543.74 2445.1L542.75 2445.1L541.75 2445.45L541.42 2446.15L541.75 2446.85L542.41 2447.2L544.07 2447.55L544.73 2447.9L545.05 2448.6L545.05 2448.95L544.73 2449.65L543.74 2450L542.75 2450L541.75 2449.65L541.42 2448.95M554.53 2444.05L555.19 2443.7L556.18 2442.65L556.18 2450M565.46 2442.65L562.16 2450M560.84 2442.65L565.46 2442.65M568.58 2446.85L574.51 2446.85M577.96 2444.4L577.96 2444.05L578.29 2443.35L578.62 2443L579.28 2442.65L580.6 2442.65L581.26 2443L581.59 2443.35L581.92 2444.05L581.92 2444.75L581.59 2445.45L580.93 2446.5L577.63 2450L582.25 2450M588.89 2442.65L585.59 2442.65L585.26 2445.8L585.59 2445.45L586.58 2445.1L587.57 2445.1L588.56 2445.45L589.22 2446.15L589.55 2447.2L589.55 2447.9L589.22 2448.95L588.56 2449.65L587.57 2450L586.58 2450L585.59 2449.65L585.26 2449.3L584.93 2448.6" stroke="#888888" stroke-width="1.2" fill="none" stroke-linecap="round" stroke-linejoin="round"/>
<path d="M617 2447.2H648" stroke="#000" stroke-width="1.5" fill="none"/>
<path d="M656 2442.65L656 2450M656 2442.65L660.29 2442.65M656 2446.15L658.64 2446.15M656 2450L660.29 2450M662.9 2445.1L662.9 2450M662.9 2446.5L663.89 2445.45L664.55 2445.1L665.54 2445.1L666.2 2445.45L666.53 2446.5L666.53 2450M673.1 2446.15L672.77 2445.45L671.78 2445.1L670.79 2445.1L669.8 2445.45L669.47 2446.15L669.8 2446.85L670.46 2447.2L672.11 2447.55L672.77 2447.9L673.1 2448.6L673.1 2448.95L672.77 2449.65L671.78 2450L670.79 2450L669.8 2449.65L669.47 2448.95M675.71 2447.2L679.67 2447.2L679.67 2446.5L679.34 2445.8L679.01 2445.45L678.35 2445.1L677.36 2445.1L676.7 2445.45L676.04 2446.15L675.71 2447.2L675.71 2447.9L676.04 2448.95L676.7 2449.65L677.36 2450L678.35 2450L679.01 2449.65L679.67 2448.95M682.82 2445.1L682.82 2450M682.82 2446.5L683.81 2445.45L684.47 2445.1L685.46 2445.1L686.12 2445.45L686.45 2446.5L686.45 2450M686.45 2446.5L687.44 2445.45L688.1 2445.1L689.09 2445.1L689.75 2445.45L690.08 2446.5L690.08 2450M693.6 2442.65L693.6 2450M693.6 2446.15L694.25 2445.45L694.92 2445.1L695.91 2445.1L696.57 2445.45L697.23 2446.15L697.56 2447.2L697.56 2447.9L697.23 2448.95L696.57 2449.65L695.91 2450L694.92 2450L694.25 2449.65L693.6 2448.95M700.32 2442.65L700.32 2450M703.09 2447.2L707.05 2447.2L707.05 2446.5L706.72 2445.8L706.38 2445.45L705.73 2445.1L704.74 2445.1L704.08 2445.45L703.42 2446.15L703.09 2447.2L703.09 2447.9L703.42 2448.95L704.08 2449.65L704.74 2450L705.73 2450L706.38 2449.65L707.05 2448.95M715.93 2442.65L715.93 2450M715.93 2442.65L718.57 2450M721.21 2442.65L718.57 2450M721.21 2442.65L721.21 2450M724.25 2447.2L728.22 2447.2L728.22 2446.5L727.88 2445.8L727.56 2445.45L726.89 2445.1L725.91 2445.1L725.25 2445.45L724.59 2446.15L724.25 2447.2L724.25 2447.9L724.59 2448.95L725.25 2449.65L725.91 2450L726.89 2450L727.56 2449.65L728.22 2448.95M734.79 2445.1L734.79 2450M734.79 2446.15L734.12 2445.45L733.47 2445.1L732.48 2445.1L731.82 2445.45L731.15 2446.15L730.83 2447.2L730.83 2447.9L731.15 2448.95L731.82 2449.65L732.48 2450L733.47 2450L734.12 2449.65L734.79 2448.95M738.09 2445.1L738.09 2450M738.09 2446.5L739.08 2445.45L739.74 2445.1L740.73 2445.1L741.39 2445.45L741.72 2446.5L741.72 2450" stroke="#000" stroke-width="1.2" fill="none" stroke-linecap="round" stroke-linejoin="round"/>
</svg></body></html>
